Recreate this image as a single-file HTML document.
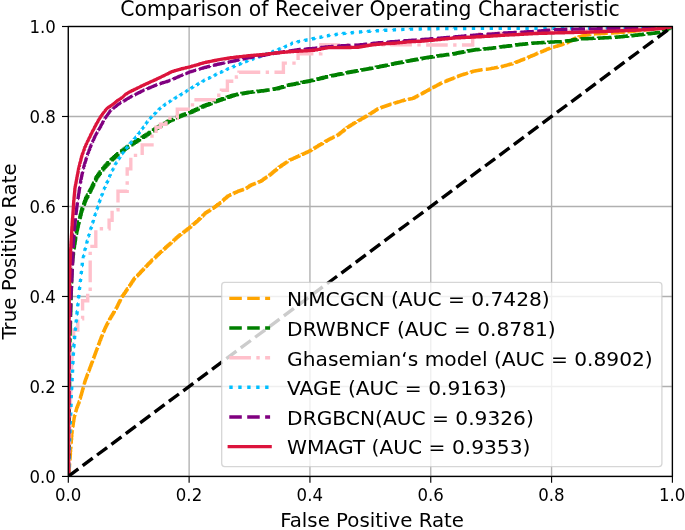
<!DOCTYPE html>
<html lang="en"><head><meta charset="utf-8"><title>Comparison of Receiver Operating Characteristic</title>
<style>html,body{margin:0;padding:0;background:#fff;overflow:hidden}svg{display:block;will-change:transform}text{font-family:"DejaVu Sans", "Liberation Sans", sans-serif;fill:#000}</style></head><body>
<svg width="685" height="530" viewBox="0 0 685 530">
<rect width="685" height="530" fill="#fff"/>
<defs><clipPath id="ax"><rect x="68.3" y="26.5" width="604.1" height="449.9"/></clipPath></defs>
<g stroke="#b0b0b0" stroke-width="1.35" fill="none">
<line x1="68.30" y1="476.4" x2="68.30" y2="26.5"/>
<line x1="68.3" y1="476.45" x2="672.4" y2="476.45"/>
<line x1="189.12" y1="476.4" x2="189.12" y2="26.5"/>
<line x1="68.3" y1="386.46" x2="672.4" y2="386.46"/>
<line x1="309.94" y1="476.4" x2="309.94" y2="26.5"/>
<line x1="68.3" y1="296.47" x2="672.4" y2="296.47"/>
<line x1="430.76" y1="476.4" x2="430.76" y2="26.5"/>
<line x1="68.3" y1="206.48" x2="672.4" y2="206.48"/>
<line x1="551.58" y1="476.4" x2="551.58" y2="26.5"/>
<line x1="68.3" y1="116.49" x2="672.4" y2="116.49"/>
<line x1="672.40" y1="476.4" x2="672.40" y2="26.5"/>
<line x1="68.3" y1="26.50" x2="672.4" y2="26.50"/>
</g>
<g clip-path="url(#ax)" fill="none" stroke-width="3.38" stroke-linejoin="miter">
<polyline id="c-orange" points="68.5,476.3 68.7,476.3 68.7,474.4 68.8,474.4 68.9,474.4 68.9,472.9 69.0,472.9 69.0,471.4 69.1,471.4 69.1,469.9 69.2,469.9 69.2,468.4 69.3,468.4 69.4,468.4 69.4,466.9 69.5,466.9 69.5,465.4 69.6,465.4 69.6,463.9 69.7,463.9 69.7,462.4 69.8,462.4 69.9,462.4 69.9,460.9 70.0,460.9 70.0,459.4 70.1,459.4 70.1,457.9 70.2,457.9 70.2,456.4 70.3,456.4 70.3,454.9 70.4,454.9 70.4,453.3 70.5,453.3 70.5,451.8 70.6,451.8 70.6,450.3 70.7,450.3 70.7,448.8 70.8,448.8 70.8,447.3 70.9,447.3 71.0,447.3 71.0,445.8 71.1,445.8 71.1,444.3 71.2,444.3 71.2,442.8 71.3,442.8 71.3,441.3 71.4,441.3 71.4,439.8 71.5,439.8 71.6,439.8 71.6,438.2 71.7,438.2 71.7,436.7 71.8,436.7 71.8,435.2 71.9,435.2 71.9,433.7 72.0,433.7 72.0,432.2 72.1,432.2 72.2,432.2 72.2,430.7 72.3,430.7 72.4,430.7 72.4,429.2 72.5,429.2 72.6,429.2 72.6,427.7 72.8,427.7 72.9,427.7 72.9,426.2 73.0,426.2 73.1,426.2 73.1,424.6 73.2,424.6 73.3,424.6 73.3,423.1 73.4,423.1 73.5,423.1 73.5,421.6 73.6,421.6 73.8,421.6 73.8,420.1 73.9,420.1 74.0,420.1 74.0,418.6 74.1,418.6 74.2,418.6 74.2,417.1 74.3,417.1 74.5,417.1 74.5,415.6 74.7,415.6 74.9,415.6 74.9,414.1 75.1,414.1 75.3,414.1 75.3,412.6 75.5,412.6 75.8,412.6 75.8,411.0 76.0,411.0 76.2,411.0 76.2,409.5 76.4,409.5 76.6,409.5 76.6,408.0 76.8,408.0 77.1,408.0 77.1,406.7 77.3,406.7 77.6,406.7 77.6,405.4 77.8,405.4 78.1,405.4 78.1,404.2 78.4,404.2 78.6,404.2 78.6,402.9 78.9,402.9 79.1,402.9 79.1,401.4 79.3,401.4 79.5,401.4 79.5,399.9 79.8,399.9 80.0,399.9 80.0,398.4 80.2,398.4 80.4,398.4 80.4,396.9 80.6,396.9 80.8,396.9 80.8,395.4 81.0,395.4 81.3,395.4 81.3,393.9 81.5,393.9 81.7,393.9 81.7,392.4 81.9,392.4 82.1,392.4 82.1,390.9 82.3,390.9 82.5,390.9 82.5,389.4 82.8,389.4 83.0,389.4 83.0,387.9 83.2,387.9 83.4,387.9 83.4,386.3 83.6,386.3 83.8,386.3 83.8,384.8 84.0,384.8 84.3,384.8 84.3,383.3 84.5,383.3 84.7,383.3 84.7,381.8 84.9,381.8 85.1,381.8 85.1,380.5 85.4,380.5 85.6,380.5 85.6,379.1 85.9,379.1 86.1,379.1 86.1,377.8 86.3,377.8 86.6,377.8 86.6,376.5 86.8,376.5 87.0,376.5 87.0,375.2 87.3,375.2 87.5,375.2 87.5,373.9 87.8,373.9 88.0,373.9 88.0,372.5 88.2,372.5 88.5,372.5 88.5,371.2 88.7,371.2 89.0,371.2 89.0,369.9 89.2,369.9 89.5,369.9 89.5,368.5 89.7,368.5 90.0,368.5 90.0,367.2 90.2,367.2 90.5,367.2 90.5,365.9 90.7,365.9 91.0,365.9 91.0,364.5 91.2,364.5 91.5,364.5 91.5,363.2 91.7,363.2 92.0,363.2 92.0,361.9 92.2,361.9 92.5,361.9 92.5,360.5 92.7,360.5 93.0,360.5 93.0,359.2 93.2,359.2 93.5,359.2 93.5,357.9 93.7,357.9 94.0,357.9 94.0,356.5 94.2,356.5 94.5,356.5 94.5,355.2 94.7,355.2 95.0,355.2 95.0,353.8 95.2,353.8 95.5,353.8 95.5,352.5 95.7,352.5 96.0,352.5 96.0,351.1 96.2,351.1 96.5,351.1 96.5,349.8 96.7,349.8 97.0,349.8 97.0,348.4 97.2,348.4 97.5,348.4 97.5,347.1 97.7,347.1 98.0,347.1 98.0,345.7 98.2,345.7 98.5,345.7 98.5,344.2 98.8,344.2 99.1,344.2 99.1,342.8 99.3,342.8 99.6,342.8 99.6,341.3 99.9,341.3 100.1,341.3 100.1,339.9 100.4,339.9 100.7,339.9 100.7,338.4 101.0,338.4 101.2,338.4 101.2,337.0 101.5,337.0 101.8,337.0 101.8,335.7 102.0,335.7 102.3,335.7 102.3,334.4 102.6,334.4 102.9,334.4 102.9,333.1 103.1,333.1 103.4,333.1 103.4,331.8 103.7,331.8 103.9,331.8 103.9,330.5 104.2,330.5 104.5,330.5 104.5,329.2 104.8,329.2 105.0,329.2 105.0,327.9 105.3,327.9 105.6,327.9 105.6,326.6 106.0,326.6 106.3,326.6 106.3,325.3 106.6,325.3 106.9,325.3 106.9,324.0 107.3,324.0 107.6,324.0 107.6,322.8 107.9,322.8 108.2,322.8 108.2,321.5 108.6,321.5 108.9,321.5 108.9,320.2 109.2,320.2 109.5,320.2 109.5,318.9 109.9,318.9 110.3,318.9 110.3,317.6 110.7,317.6 111.1,317.6 111.1,316.2 111.5,316.2 111.9,316.2 111.9,314.9 112.3,314.9 112.7,314.9 112.7,313.6 113.1,313.6 113.5,313.6 113.5,312.3 113.9,312.3 114.3,312.3 114.3,310.9 114.8,310.9 115.2,310.9 115.2,309.6 115.6,309.6 116.0,309.6 116.0,308.3 116.4,308.3 116.7,308.3 116.7,307.0 117.0,307.0 117.3,307.0 117.3,305.6 117.6,305.6 118.0,305.6 118.0,304.3 118.3,304.3 118.6,304.3 118.6,303.0 118.9,303.0 119.2,303.0 119.2,301.7 119.6,301.7 119.9,301.7 119.9,300.4 120.2,300.4 120.5,300.4 120.5,299.0 120.8,299.0 121.1,299.0 121.1,297.7 121.5,297.7 121.9,297.7 121.9,296.4 122.3,296.4 122.8,296.4 122.8,295.1 123.2,295.1 123.7,295.1 123.7,293.8 124.1,293.8 124.6,293.8 124.6,292.6 125.0,292.6 125.5,292.6 125.5,291.3 125.9,291.3 126.3,291.3 126.3,290.0 126.8,290.0 127.2,290.0 127.2,288.7 127.7,288.7 128.1,288.7 128.1,287.5 128.5,287.5 128.9,287.5 128.9,286.3 129.3,286.3 129.7,286.3 129.7,285.1 130.1,285.1 130.5,285.1 130.5,283.9 130.9,283.9 131.3,283.9 131.3,282.6 131.7,282.6 132.1,282.6 132.1,281.4 132.5,281.4 132.9,281.4 132.9,280.2 133.3,280.2 133.7,280.2 133.7,279.0 134.1,279.0 134.6,279.0 134.6,278.0 135.1,278.0 135.6,278.0 135.6,276.9 136.1,276.9 136.6,276.9 136.6,275.9 137.1,275.9 137.6,275.9 137.6,274.9 138.1,274.9 138.6,274.9 138.6,273.9 139.1,273.9 139.6,273.9 139.6,272.9 140.1,272.9 140.6,272.9 140.6,271.8 141.1,271.8 141.6,271.8 141.6,270.8 142.1,270.8 142.6,270.8 142.6,269.7 143.1,269.7 143.6,269.7 143.6,268.6 144.1,268.6 144.6,268.6 144.6,267.6 145.1,267.6 145.7,267.6 145.7,266.5 146.2,266.5 146.7,266.5 146.7,265.4 147.2,265.4 147.7,265.4 147.7,264.3 148.2,264.3 148.7,264.3 148.7,263.3 149.2,263.3 149.8,263.3 149.8,262.2 150.3,262.2 150.8,262.2 150.8,261.1 151.3,261.1 151.8,261.1 151.8,260.0 152.4,260.0 153.0,260.0 153.0,259.0 153.5,259.0 154.1,259.0 154.1,257.9 154.6,257.9 155.2,257.9 155.2,256.9 155.7,256.9 156.3,256.9 156.3,255.8 156.9,255.8 157.4,255.8 157.4,254.7 158.0,254.7 158.5,254.7 158.5,253.7 159.1,253.7 159.6,253.7 159.6,252.6 160.2,252.6 160.8,252.6 160.8,251.5 161.4,251.5 162.0,251.5 162.0,250.5 162.5,250.5 163.1,250.5 163.1,249.4 163.7,249.4 164.3,249.4 164.3,248.4 164.9,248.4 165.5,248.4 165.5,247.3 166.1,247.3 166.7,247.3 166.7,246.3 167.2,246.3 167.8,246.3 167.8,245.2 168.4,245.2 169.0,245.2 169.0,244.2 169.6,244.2 170.2,244.2 170.2,243.1 170.8,243.1 171.4,243.1 171.4,242.1 172.0,242.1 172.6,242.1 172.6,241.0 173.2,241.0 173.8,241.0 173.8,239.9 174.3,239.9 174.9,239.9 174.9,238.9 175.5,238.9 176.1,238.9 176.1,237.8 176.7,237.8 177.3,237.8 177.3,236.8 177.9,236.8 178.5,236.8 178.5,235.7 179.1,235.7 179.7,235.7 179.7,234.8 180.3,234.8 181.0,234.8 181.0,233.8 181.6,233.8 182.2,233.8 182.2,232.8 182.8,232.8 183.5,232.8 183.5,231.9 184.1,231.9 184.7,231.9 184.7,230.9 185.3,230.9 186.0,230.9 186.0,230.0 186.6,230.0 187.2,230.0 187.2,229.0 187.8,229.0 188.5,229.0 188.5,228.1 189.1,228.1 189.6,228.1 189.6,227.2 190.2,227.2 190.8,227.2 190.8,226.2 191.3,226.2 191.9,226.2 191.9,225.3 192.4,225.3 192.9,225.3 192.9,224.3 193.5,224.3 194.1,224.3 194.1,223.4 194.6,223.4 195.1,223.4 195.1,222.5 195.7,222.5 196.2,222.5 196.2,221.5 196.8,221.5 197.4,221.5 197.4,220.6 197.9,220.6 198.4,220.6 198.4,219.5 199.0,219.5 199.5,219.5 199.5,218.4 200.1,218.4 200.6,218.4 200.6,217.3 201.2,217.3 201.7,217.3 201.7,216.3 202.2,216.3 202.8,216.3 202.8,215.2 203.3,215.2 203.9,215.2 203.9,214.1 204.4,214.1 205.0,214.1 205.0,213.0 205.5,213.0 206.1,213.0 206.1,212.2 206.8,212.2 207.4,212.2 207.4,211.4 208.0,211.4 208.6,211.4 208.6,210.7 209.2,210.7 209.9,210.7 209.9,209.9 210.5,209.9 211.1,209.9 211.1,209.1 211.8,209.1 212.4,209.1 212.4,208.3 213.0,208.3 213.6,208.3 213.6,207.4 214.3,207.4 214.9,207.4 214.9,206.4 215.5,206.4 216.2,206.4 216.2,205.4 216.8,205.4 217.4,205.4 217.4,204.5 218.1,204.5 218.7,204.5 218.7,203.6 219.3,203.6 220.0,203.6 220.0,202.6 220.6,202.6 221.1,202.6 221.1,201.7 221.7,201.7 222.2,201.7 222.2,200.7 222.7,200.7 223.3,200.7 223.3,199.8 223.8,199.8 224.3,199.8 224.3,198.8 224.9,198.8 225.4,198.8 225.4,197.9 226.0,197.9 226.5,197.9 226.5,196.9 227.0,196.9 227.6,196.9 227.6,196.0 228.1,196.0 228.8,196.0 228.8,195.4 229.4,195.4 230.1,195.4 230.1,194.7 230.8,194.7 231.5,194.7 231.5,194.1 232.1,194.1 232.8,194.1 232.8,193.5 233.5,193.5 234.1,193.5 234.1,192.8 234.8,192.8 235.5,192.8 235.5,192.2 236.2,192.2 236.8,192.2 236.8,191.6 237.5,191.6 238.2,191.6 238.2,191.0 239.0,191.0 239.8,191.0 239.8,190.5 240.5,190.5 241.2,190.5 241.2,190.0 242.0,190.0 242.8,190.0 242.8,189.5 243.5,189.5 244.2,189.5 244.2,189.0 245.0,189.0 245.6,189.0 245.6,188.2 246.3,188.2 246.9,188.2 246.9,187.4 247.5,187.4 248.2,187.4 248.2,186.6 248.8,186.6 249.4,186.6 249.4,185.8 250.0,185.8 250.7,185.8 250.7,185.0 251.3,185.0 252.0,185.0 252.0,184.5 252.7,184.5 253.3,184.5 253.3,183.9 254.0,183.9 254.7,183.9 254.7,183.4 255.4,183.4 256.1,183.4 256.1,182.8 256.7,182.8 257.4,182.8 257.4,182.3 258.1,182.3 258.8,182.3 258.8,181.7 259.4,181.7 260.1,181.7 260.1,181.2 260.8,181.2 261.4,181.2 261.4,180.4 262.0,180.4 262.6,180.4 262.6,179.6 263.1,179.6 263.7,179.6 263.7,178.8 264.3,178.8 264.9,178.8 264.9,177.9 265.5,177.9 266.1,177.9 266.1,177.1 266.7,177.1 267.3,177.1 267.3,176.3 267.9,176.3 268.4,176.3 268.4,175.5 269.0,175.5 269.6,175.5 269.6,174.7 270.2,174.7 270.8,174.7 270.8,173.7 271.4,173.7 272.0,173.7 272.0,172.8 272.6,172.8 273.1,172.8 273.1,171.8 273.7,171.8 274.3,171.8 274.3,170.8 274.9,170.8 275.5,170.8 275.5,169.9 276.1,169.9 276.7,169.9 276.7,168.9 277.2,168.9 277.8,168.9 277.8,168.0 278.4,168.0 279.0,168.0 279.0,167.0 279.6,167.0 280.2,167.0 280.2,166.2 280.8,166.2 281.4,166.2 281.4,165.3 282.0,165.3 282.6,165.3 282.6,164.5 283.2,164.5 283.8,164.5 283.8,163.7 284.4,163.7 284.9,163.7 284.9,162.9 285.5,162.9 286.1,162.9 286.1,162.1 286.7,162.1 287.3,162.1 287.3,161.2 287.9,161.2 288.5,161.2 288.5,160.4 289.1,160.4 289.8,160.4 289.8,159.8 290.4,159.8 291.1,159.8 291.1,159.2 291.8,159.2 292.5,159.2 292.5,158.6 293.1,158.6 293.8,158.6 293.8,158.0 294.5,158.0 295.1,158.0 295.1,157.4 295.8,157.4 296.5,157.4 296.5,156.8 297.2,156.8 297.8,156.8 297.8,156.2 298.5,156.2 299.2,156.2 299.2,155.5 299.9,155.5 300.6,155.5 300.6,154.9 301.3,154.9 302.0,154.9 302.0,154.2 302.7,154.2 303.4,154.2 303.4,153.6 304.1,153.6 304.9,153.6 304.9,152.9 305.6,152.9 306.3,152.9 306.3,152.2 307.0,152.2 307.7,152.2 307.7,151.6 308.4,151.6 309.1,151.6 309.1,150.9 309.8,150.9 310.5,150.9 310.5,150.1 311.1,150.1 311.8,150.1 311.8,149.3 312.5,149.3 313.2,149.3 313.2,148.5 313.8,148.5 314.5,148.5 314.5,147.7 315.2,147.7 315.8,147.7 315.8,146.9 316.5,146.9 317.2,146.9 317.2,146.1 317.9,146.1 318.5,146.1 318.5,145.3 319.2,145.3 319.9,145.3 319.9,144.5 320.6,144.5 321.2,144.5 321.2,143.7 321.9,143.7 322.6,143.7 322.6,142.9 323.3,142.9 323.9,142.9 323.9,142.0 324.6,142.0 325.3,142.0 325.3,141.2 326.0,141.2 326.7,141.2 326.7,140.4 327.3,140.4 328.0,140.4 328.0,139.6 328.7,139.6 329.4,139.6 329.4,138.9 330.0,138.9 330.7,138.9 330.7,138.3 331.4,138.3 332.1,138.3 332.1,137.6 332.7,137.6 333.4,137.6 333.4,136.9 334.1,136.9 334.7,136.9 334.7,136.2 335.4,136.2 336.1,136.2 336.1,135.6 336.8,135.6 337.4,135.6 337.4,134.9 338.1,134.9 338.7,134.9 338.7,134.0 339.3,134.0 339.9,134.0 339.9,133.0 340.5,133.0 341.0,133.0 341.0,132.1 341.6,132.1 342.2,132.1 342.2,131.2 342.8,131.2 343.4,131.2 343.4,130.2 344.0,130.2 344.6,130.2 344.6,129.3 345.1,129.3 345.7,129.3 345.7,128.3 346.3,128.3 346.9,128.3 346.9,127.4 347.5,127.4 348.1,127.4 348.1,126.6 348.8,126.6 349.5,126.6 349.5,125.8 350.1,125.8 350.8,125.8 350.8,124.9 351.4,124.9 352.0,124.9 352.0,124.1 352.7,124.1 353.4,124.1 353.4,123.3 354.0,123.3 354.6,123.3 354.6,122.6 355.2,122.6 355.8,122.6 355.8,121.9 356.4,121.9 357.0,121.9 357.0,121.3 357.6,121.3 358.2,121.3 358.2,120.6 358.8,120.6 359.4,120.6 359.4,119.9 360.0,119.9 360.7,119.9 360.7,119.1 361.3,119.1 361.9,119.1 361.9,118.4 362.5,118.4 363.1,118.4 363.1,117.7 363.8,117.7 364.4,117.7 364.4,117.0 365.0,117.0 365.6,117.0 365.6,116.2 366.3,116.2 366.9,116.2 366.9,115.5 367.5,115.5 368.1,115.5 368.1,114.7 368.8,114.7 369.5,114.7 369.5,113.9 370.1,113.9 370.8,113.9 370.8,113.1 371.4,113.1 372.0,113.1 372.0,112.3 372.7,112.3 373.4,112.3 373.4,111.4 374.0,111.4 374.6,111.4 374.6,110.6 375.3,110.6 375.9,110.6 375.9,109.8 376.6,109.8 377.2,109.8 377.2,109.0 377.9,109.0 378.5,109.0 378.5,108.2 379.2,108.2 379.9,108.2 379.9,107.7 380.7,107.7 381.4,107.7 381.4,107.2 382.1,107.2 382.8,107.2 382.8,106.7 383.6,106.7 384.3,106.7 384.3,106.2 385.0,106.2 385.8,106.2 385.8,105.8 386.5,105.8 387.2,105.8 387.2,105.3 387.9,105.3 388.7,105.3 388.7,104.8 389.4,104.8 390.1,104.8 390.1,104.3 390.8,104.3 391.6,104.3 391.6,103.8 392.3,103.8 393.0,103.8 393.0,103.4 393.8,103.4 394.5,103.4 394.5,102.9 395.2,102.9 396.0,102.9 396.0,102.5 396.7,102.5 397.4,102.5 397.4,102.0 398.2,102.0 398.9,102.0 398.9,101.6 399.6,101.6 400.4,101.6 400.4,101.1 401.1,101.1 401.8,101.1 401.8,100.7 402.6,100.7 403.3,100.7 403.3,100.2 404.0,100.2 404.8,100.2 404.8,99.8 405.5,99.8 406.2,99.8 406.2,99.5 407.0,99.5 407.7,99.5 407.7,99.2 408.4,99.2 409.1,99.2 409.1,99.0 409.9,99.0 410.6,99.0 410.6,98.7 411.3,98.7 412.1,98.7 412.1,98.4 412.8,98.4 413.5,98.4 413.5,97.7 414.3,97.7 415.0,97.7 415.0,96.9 415.7,96.9 416.5,96.9 416.5,96.1 417.2,96.1 417.9,96.1 417.9,95.4 418.6,95.4 419.4,95.4 419.4,94.6 420.1,94.6 420.7,94.6 420.7,93.9 421.4,93.9 422.0,93.9 422.0,93.2 422.7,93.2 423.3,93.2 423.3,92.5 423.9,92.5 424.6,92.5 424.6,91.8 425.2,91.8 425.8,91.8 425.8,91.1 426.5,91.1 427.1,91.1 427.1,90.4 427.8,90.4 428.4,90.4 428.4,89.7 429.0,89.7 429.7,89.7 429.7,89.0 430.3,89.0 430.9,89.0 430.9,88.3 431.6,88.3 432.2,88.3 432.2,87.6 432.9,87.6 433.5,87.6 433.5,86.9 434.1,86.9 434.8,86.9 434.8,86.3 435.4,86.3 436.0,86.3 436.0,85.6 436.7,85.6 437.3,85.6 437.3,84.9 437.9,84.9 438.6,84.9 438.6,84.2 439.2,84.2 439.9,84.2 439.9,83.5 440.5,83.5 441.2,83.5 441.2,82.9 442.0,82.9 442.8,82.9 442.8,82.3 443.5,82.3 444.2,82.3 444.2,81.6 445.0,81.6 445.8,81.6 445.8,81.0 446.5,81.0 447.2,81.0 447.2,80.3 448.0,80.3 448.7,80.3 448.7,79.8 449.4,79.8 450.1,79.8 450.1,79.2 450.7,79.2 451.4,79.2 451.4,78.7 452.1,78.7 452.8,78.7 452.8,78.1 453.5,78.1 454.1,78.1 454.1,77.6 454.8,77.6 455.5,77.6 455.5,77.0 456.2,77.0 456.9,77.0 456.9,76.5 457.6,76.5 458.2,76.5 458.2,75.9 458.9,75.9 459.6,75.9 459.6,75.4 460.3,75.4 461.0,75.4 461.0,74.9 461.8,74.9 462.5,74.9 462.5,74.5 463.2,74.5 463.9,74.5 463.9,74.0 464.7,74.0 465.4,74.0 465.4,73.6 466.1,73.6 466.9,73.6 466.9,73.1 467.6,73.1 468.3,73.1 468.3,72.6 469.0,72.6 469.8,72.6 469.8,72.2 470.5,72.2 471.2,72.2 471.2,71.7 471.9,71.7 472.7,71.7 472.7,71.3 473.4,71.3 474.1,71.3 474.1,71.0 474.8,71.0 475.5,71.0 475.5,70.7 476.2,70.7 476.9,70.7 476.9,70.5 477.6,70.5 478.3,70.5 478.3,70.2 479.0,70.2 479.8,70.2 479.8,70.0 480.5,70.0 481.3,70.0 481.3,69.8 482.0,69.8 482.8,69.8 482.8,69.6 483.5,69.6 484.3,69.6 484.3,69.4 485.1,69.4 485.8,69.4 485.8,69.3 486.6,69.3 487.3,69.3 487.3,69.1 488.1,69.1 488.8,69.1 488.8,68.9 489.6,68.9 490.3,68.9 490.3,68.6 491.1,68.6 491.8,68.6 491.8,68.3 492.5,68.3 493.3,68.3 493.3,68.1 494.0,68.1 494.7,68.1 494.7,67.8 495.5,67.8 496.2,67.8 496.2,67.5 496.9,67.5 497.6,67.5 497.6,67.2 498.4,67.2 499.1,67.2 499.1,66.9 499.8,66.9 500.6,66.9 500.6,66.7 501.3,66.7 502.0,66.7 502.0,66.3 502.8,66.3 503.5,66.3 503.5,65.9 504.2,65.9 505.0,65.9 505.0,65.5 505.7,65.5 506.4,65.5 506.4,65.1 507.1,65.1 507.9,65.1 507.9,64.7 508.6,64.7 509.3,64.7 509.3,64.3 510.1,64.3 510.8,64.3 510.8,64.0 511.5,64.0 512.3,64.0 512.3,63.6 513.0,63.6 513.7,63.6 513.7,63.0 514.5,63.0 515.2,63.0 515.2,62.4 515.9,62.4 516.6,62.4 516.6,61.8 517.4,61.8 518.1,61.8 518.1,61.2 518.8,61.2 519.5,61.2 519.5,60.6 520.3,60.6 521.0,60.6 521.0,60.0 521.7,60.0 522.5,60.0 522.5,59.5 523.2,59.5 523.9,59.5 523.9,58.9 524.6,58.9 525.4,58.9 525.4,58.3 526.1,58.3 526.8,58.3 526.8,57.7 527.6,57.7 528.3,57.7 528.3,57.0 529.0,57.0 529.7,57.0 529.7,56.4 530.5,56.4 531.2,56.4 531.2,55.8 531.9,55.8 532.7,55.8 532.7,55.2 533.4,55.2 534.1,55.2 534.1,54.6 534.8,54.6 535.6,54.6 535.6,53.9 536.3,53.9 537.0,53.9 537.0,53.3 537.7,53.3 538.5,53.3 538.5,52.7 539.2,52.7 539.9,52.7 539.9,52.1 540.7,52.1 541.4,52.1 541.4,51.5 542.1,51.5 542.9,51.5 542.9,50.9 543.6,50.9 544.3,50.9 544.3,50.2 545.0,50.2 545.8,50.2 545.8,49.6 546.5,49.6 547.2,49.6 547.2,49.0 548.0,49.0 548.7,49.0 548.7,48.4 549.4,48.4 550.2,48.4 550.2,47.8 550.9,47.8 551.6,47.8 551.6,47.4 552.4,47.4 553.1,47.4 553.1,47.0 553.8,47.0 554.6,47.0 554.6,46.6 555.3,46.6 556.0,46.6 556.0,46.2 556.8,46.2 557.5,46.2 557.5,45.8 558.2,45.8 559.0,45.8 559.0,45.4 559.7,45.4 560.4,45.4 560.4,44.9 561.2,44.9 561.9,44.9 561.9,44.3 562.6,44.3 563.3,44.3 563.3,43.8 564.0,43.8 564.8,43.8 564.8,43.2 565.5,43.2 566.2,43.2 566.2,42.7 567.0,42.7 567.7,42.7 567.7,42.1 568.4,42.1 569.0,42.1 569.0,41.4 569.5,41.4 570.1,41.4 570.1,40.8 570.7,40.8 571.3,40.8 571.3,40.1 571.9,40.1 572.4,40.1 572.4,39.4 573.0,39.4 573.6,39.4 573.6,38.8 574.2,38.8 574.9,38.8 574.9,38.2 575.5,38.2 576.1,38.2 576.1,37.6 576.8,37.6 577.4,37.6 577.4,37.0 578.0,37.0 578.7,37.0 578.7,36.7 579.4,36.7 580.0,36.7 580.0,36.4 580.7,36.4 581.4,36.4 581.4,36.0 582.0,36.0 582.7,36.0 582.7,35.7 583.4,35.7 584.1,35.7 584.1,35.4 584.8,35.4 585.4,35.4 585.4,35.0 586.1,35.0 586.9,35.0 586.9,34.8 587.7,34.8 588.5,34.8 588.5,34.6 589.3,34.6 590.1,34.6 590.1,34.4 590.9,34.4 591.7,34.4 591.7,34.2 592.5,34.2 593.3,34.2 593.3,34.0 594.1,34.0 594.8,34.0 594.8,33.9 595.6,33.9 596.3,33.9 596.3,33.8 597.0,33.8 597.7,33.8 598.5,33.8 599.2,33.8 599.2,33.7 599.9,33.7 600.6,33.7 600.6,33.6 601.4,33.6 602.1,33.6 602.8,33.6 603.6,33.6 603.6,33.5 604.3,33.5 605.0,33.5 605.0,33.4 605.7,33.4 606.5,33.4 606.5,33.3 607.2,33.3 607.9,33.3 608.6,33.3 609.4,33.3 609.4,33.2 610.1,33.2 610.8,33.2 610.8,33.1 611.6,33.1 612.3,33.1 612.3,33.0 613.0,33.0 613.8,33.0 613.8,32.9 614.5,32.9 615.2,32.9 615.2,32.8 616.0,32.8 616.7,32.8 616.7,32.7 617.4,32.7 618.2,32.7 618.2,32.5 618.9,32.5 619.6,32.5 619.6,32.4 620.3,32.4 621.1,32.4 621.1,32.3 621.8,32.3 622.5,32.3 622.5,32.2 623.3,32.2 624.0,32.2 624.0,32.1 624.7,32.1 625.5,32.1 625.5,32.0 626.2,32.0 626.9,32.0 626.9,31.8 627.7,31.8 628.4,31.8 628.4,31.7 629.2,31.7 629.9,31.7 629.9,31.5 630.7,31.5 631.4,31.5 631.4,31.4 632.2,31.4 632.9,31.4 632.9,31.2 633.6,31.2 634.4,31.2 634.4,31.1 635.1,31.1 635.9,31.1 635.9,30.9 636.6,30.9 637.4,30.9 637.4,30.8 638.1,30.8 638.8,30.8 638.8,30.6 639.6,30.6 640.3,30.6 640.3,30.4 641.1,30.4 641.8,30.4 641.8,30.3 642.6,30.3 643.3,30.3 643.3,30.1 644.0,30.1 644.8,30.1 644.8,30.0 645.5,30.0 646.3,30.0 646.3,29.8 647.0,29.8 647.8,29.8 647.8,29.7 648.5,29.7 649.3,29.7 649.3,29.5 650.0,29.5 650.7,29.5 650.7,29.3 651.5,29.3 652.2,29.3 652.2,29.1 653.0,29.1 653.7,29.1 653.7,28.9 654.4,28.9 655.2,28.9 655.2,28.7 655.9,28.7 656.7,28.7 656.7,28.5 657.4,28.5 658.1,28.5 658.1,28.3 658.9,28.3 659.6,28.3 659.6,28.1 660.4,28.1 661.1,28.1 661.1,27.8 661.8,27.8 662.6,27.8 662.6,27.6 663.3,27.6 664.1,27.6 664.1,27.4 664.8,27.4 665.5,27.4 665.5,27.2 666.3,27.2 667.0,27.2 667.0,27.0 667.8,27.0 668.5,27.0 668.5,26.8 669.2,26.8 670.0,26.8 670.0,26.6 670.7,26.6 671.5,26.6 671.5,26.4 672.2,26.4" stroke="#FFA500" stroke-dasharray="14.03,3.89" stroke-linejoin="round"/>
<polyline id="c-green" points="68.5,476.3 68.5,474.8 68.5,473.3 68.6,473.3 68.6,471.8 68.6,470.2 68.6,468.7 68.6,467.2 68.6,465.7 68.7,465.7 68.7,464.2 68.7,462.7 68.7,461.2 68.7,459.7 68.7,458.1 68.8,458.1 68.8,456.6 68.8,455.1 68.8,453.6 68.8,452.1 68.8,450.6 68.9,450.6 68.9,449.1 68.9,447.6 68.9,446.1 68.9,444.5 68.9,443.0 69.0,443.0 69.0,441.5 69.0,440.0 69.0,438.5 69.0,437.0 69.0,435.6 69.1,435.6 69.1,434.1 69.1,432.6 69.1,431.1 69.1,429.6 69.1,428.1 69.1,426.7 69.1,425.2 69.2,425.2 69.2,423.7 69.2,422.2 69.2,420.7 69.2,419.3 69.2,417.8 69.2,416.3 69.2,414.8 69.3,414.8 69.3,413.3 69.3,411.9 69.3,410.4 69.3,408.9 69.3,407.4 69.3,405.9 69.3,404.4 69.4,404.4 69.4,403.0 69.4,401.5 69.4,400.0 69.4,398.5 69.4,397.0 69.4,395.5 69.5,395.5 69.5,394.0 69.5,392.5 69.5,391.0 69.5,389.5 69.5,388.0 69.5,386.5 69.5,385.0 69.6,385.0 69.6,383.5 69.6,382.0 69.6,380.5 69.6,379.0 69.6,377.5 69.6,376.0 69.6,374.5 69.7,374.5 69.7,373.0 69.7,371.5 69.7,370.0 69.7,368.5 69.7,367.0 69.7,365.5 69.8,365.5 69.8,364.0 69.8,362.5 69.8,361.0 69.8,359.5 69.8,358.0 69.8,356.5 69.8,355.0 69.9,355.0 69.9,353.5 69.9,352.0 69.9,350.5 69.9,349.0 69.9,347.5 69.9,346.0 69.9,344.5 70.0,344.5 70.0,343.0 70.0,341.5 70.0,340.0 70.0,338.5 70.1,338.5 70.1,337.0 70.1,335.6 70.1,334.1 70.2,334.1 70.2,332.6 70.2,331.1 70.2,329.6 70.3,329.6 70.3,328.1 70.3,326.7 70.4,326.7 70.4,325.2 70.4,323.7 70.4,322.2 70.5,322.2 70.5,320.7 70.5,319.3 70.5,317.8 70.6,317.8 70.6,316.3 70.6,314.8 70.6,313.3 70.7,313.3 70.7,311.9 70.7,310.4 70.8,310.4 70.8,308.9 70.8,307.4 70.8,305.9 70.9,305.9 70.9,304.4 70.9,303.0 70.9,301.5 71.0,301.5 71.0,300.0 71.0,298.5 71.1,298.5 71.1,297.0 71.1,295.4 71.2,295.4 71.2,293.9 71.2,292.4 71.3,292.4 71.3,290.9 71.3,289.4 71.4,289.4 71.4,287.8 71.4,286.3 71.5,286.3 71.5,284.8 71.5,283.3 71.5,281.8 71.6,281.8 71.6,280.2 71.6,278.7 71.7,278.7 71.7,277.2 71.7,275.7 71.8,275.7 71.8,274.2 71.8,272.6 71.9,272.6 71.9,271.1 71.9,269.6 72.0,269.6 72.0,268.1 72.0,266.6 72.1,266.6 72.1,265.0 72.2,265.0 72.2,263.6 72.3,263.6 72.3,262.1 72.4,262.1 72.4,260.7 72.5,260.7 72.6,260.7 72.6,259.3 72.7,259.3 72.7,257.8 72.8,257.8 72.9,257.8 72.9,256.4 73.0,256.4 73.1,256.4 73.1,254.9 73.2,254.9 73.3,254.9 73.3,253.5 73.4,253.5 73.5,253.5 73.5,252.0 73.6,252.0 73.6,250.6 73.7,250.6 73.8,250.6 73.8,249.2 73.9,249.2 74.0,249.2 74.0,247.7 74.1,247.7 74.2,247.7 74.2,246.3 74.3,246.3 74.4,246.3 74.4,244.9 74.5,244.9 74.6,244.9 74.6,243.4 74.7,243.4 74.9,243.4 74.9,242.0 75.0,242.0 75.1,242.0 75.1,240.6 75.2,240.6 75.3,240.6 75.3,239.2 75.4,239.2 75.5,239.2 75.5,237.7 75.6,237.7 75.7,237.7 75.7,236.3 75.9,236.3 76.0,236.3 76.0,234.9 76.1,234.9 76.2,234.9 76.2,233.4 76.3,233.4 76.5,233.4 76.5,232.0 76.6,232.0 76.8,232.0 76.8,230.6 77.0,230.6 77.1,230.6 77.1,229.2 77.3,229.2 77.4,229.2 77.4,227.7 77.6,227.7 77.8,227.7 77.8,226.3 77.9,226.3 78.1,226.3 78.1,224.9 78.2,224.9 78.4,224.9 78.4,223.4 78.6,223.4 78.7,223.4 78.7,222.0 78.9,222.0 79.1,222.0 79.1,220.5 79.3,220.5 79.5,220.5 79.5,219.0 79.7,219.0 79.8,219.0 79.8,217.5 80.0,217.5 80.2,217.5 80.2,215.9 80.4,215.9 80.6,215.9 80.6,214.4 80.8,214.4 81.0,214.4 81.0,212.9 81.2,212.9 81.3,212.9 81.3,211.4 81.5,211.4 81.7,211.4 81.7,209.9 81.9,209.9 82.2,209.9 82.2,208.5 82.4,208.5 82.7,208.5 82.7,207.1 82.9,207.1 83.2,207.1 83.2,205.7 83.4,205.7 83.7,205.7 83.7,204.4 84.0,204.4 84.2,204.4 84.2,203.0 84.5,203.0 84.7,203.0 84.7,201.6 85.0,201.6 85.2,201.6 85.2,200.2 85.5,200.2 85.7,200.2 85.7,198.8 86.0,198.8 86.3,198.8 86.3,197.5 86.7,197.5 87.1,197.5 87.1,196.2 87.4,196.2 87.8,196.2 87.8,194.9 88.1,194.9 88.4,194.9 88.4,193.6 88.8,193.6 89.2,193.6 89.2,192.3 89.5,192.3 89.8,192.3 89.8,191.0 90.2,191.0 90.5,191.0 90.5,189.7 90.8,189.7 91.2,189.7 91.2,188.4 91.5,188.4 91.8,188.4 91.8,187.1 92.1,187.1 92.5,187.1 92.5,185.8 92.8,185.8 93.1,185.8 93.1,184.5 93.4,184.5 93.7,184.5 93.7,183.1 94.0,183.1 94.3,183.1 94.3,181.8 94.7,181.8 95.0,181.8 95.0,180.5 95.3,180.5 95.6,180.5 95.6,179.1 95.9,179.1 96.2,179.1 96.2,177.8 96.5,177.8 96.9,177.8 96.9,176.6 97.3,176.6 97.7,176.6 97.7,175.5 98.2,175.5 98.6,175.5 98.6,174.3 99.0,174.3 99.4,174.3 99.4,173.2 99.8,173.2 100.2,173.2 100.2,172.0 100.6,172.0 101.1,172.0 101.1,170.9 101.5,170.9 101.9,170.9 101.9,169.7 102.3,169.7 102.8,169.7 102.8,168.6 103.3,168.6 103.9,168.6 103.9,167.4 104.4,167.4 104.9,167.4 104.9,166.3 105.4,166.3 105.9,166.3 105.9,165.1 106.5,165.1 107.0,165.1 107.0,164.0 107.5,164.0 108.0,164.0 108.0,162.8 108.6,162.8 109.1,162.8 109.1,161.7 109.6,161.7 110.1,161.7 110.1,160.7 110.7,160.7 111.2,160.7 111.2,159.7 111.8,159.7 112.3,159.7 112.3,158.7 112.9,158.7 113.5,158.7 113.5,157.7 114.0,157.7 114.5,157.7 114.5,156.7 115.1,156.7 115.7,156.7 115.7,155.7 116.2,155.7 116.8,155.7 116.8,154.7 117.3,154.7 117.9,154.7 117.9,153.7 118.4,153.7 119.0,153.7 119.0,152.8 119.7,152.8 120.3,152.8 120.3,151.9 121.0,151.9 121.6,151.9 121.6,151.0 122.2,151.0 122.9,151.0 122.9,150.1 123.5,150.1 124.1,150.1 124.1,149.1 124.8,149.1 125.4,149.1 125.4,148.2 126.0,148.2 126.7,148.2 126.7,147.3 127.3,147.3 128.0,147.3 128.0,146.4 128.6,146.4 129.2,146.4 129.2,145.6 129.9,145.6 130.5,145.6 130.5,144.8 131.2,144.8 131.8,144.8 131.8,143.9 132.4,143.9 133.1,143.9 133.1,143.1 133.7,143.1 134.3,143.1 134.3,142.3 135.0,142.3 135.6,142.3 135.6,141.5 136.2,141.5 136.9,141.5 136.9,140.6 137.5,140.6 138.2,140.6 138.2,139.8 138.8,139.8 139.5,139.8 139.5,139.0 140.1,139.0 140.8,139.0 140.8,138.2 141.4,138.2 142.1,138.2 142.1,137.4 142.7,137.4 143.4,137.4 143.4,136.5 144.0,136.5 144.7,136.5 144.7,135.7 145.3,135.7 145.9,135.7 145.9,134.9 146.6,134.9 147.2,134.9 147.2,134.1 147.9,134.1 148.6,134.1 148.6,133.3 149.2,133.3 149.8,133.3 149.8,132.5 150.5,132.5 151.1,132.5 151.1,131.7 151.7,131.7 152.3,131.7 152.3,130.9 152.9,130.9 153.5,130.9 153.5,130.0 154.1,130.0 154.7,130.0 154.7,129.2 155.3,129.2 155.9,129.2 155.9,128.4 156.5,128.4 157.1,128.4 157.1,127.6 157.7,127.6 158.3,127.6 158.3,126.8 158.9,126.8 159.5,126.8 159.5,126.1 160.1,126.1 160.8,126.1 160.8,125.4 161.4,125.4 162.0,125.4 162.0,124.7 162.6,124.7 163.3,124.7 163.3,124.0 163.9,124.0 164.5,124.0 164.5,123.4 165.1,123.4 165.7,123.4 165.7,122.7 166.4,122.7 167.0,122.7 167.0,122.0 167.6,122.0 168.2,122.0 168.2,121.3 168.9,121.3 169.5,121.3 169.5,120.6 170.1,120.6 170.8,120.6 170.8,120.0 171.4,120.0 172.1,120.0 172.1,119.5 172.7,119.5 173.3,119.5 173.3,118.9 174.0,118.9 174.7,118.9 174.7,118.3 175.3,118.3 175.9,118.3 175.9,117.8 176.6,117.8 177.2,117.8 177.2,117.2 177.9,117.2 178.6,117.2 178.6,116.6 179.2,116.6 179.9,116.6 179.9,116.1 180.5,116.1 181.2,116.1 181.2,115.5 181.8,115.5 182.5,115.5 182.5,115.0 183.2,115.0 184.0,115.0 184.0,114.4 184.7,114.4 185.4,114.4 185.4,113.9 186.2,113.9 186.9,113.9 186.9,113.4 187.6,113.4 188.3,113.4 188.3,112.9 189.1,112.9 189.8,112.9 189.8,112.3 190.5,112.3 191.2,112.3 191.2,111.7 191.9,111.7 192.6,111.7 192.6,111.0 193.3,111.0 194.0,111.0 194.0,110.4 194.7,110.4 195.4,110.4 195.4,109.7 196.1,109.7 196.8,109.7 196.8,109.1 197.6,109.1 198.3,109.1 198.3,108.4 199.0,108.4 199.7,108.4 199.7,107.8 200.4,107.8 201.1,107.8 201.1,107.1 201.8,107.1 202.5,107.1 202.5,106.5 203.2,106.5 203.9,106.5 203.9,105.8 204.6,105.8 205.3,105.8 205.3,105.3 206.1,105.3 206.8,105.3 206.8,104.7 207.5,104.7 208.2,104.7 208.2,104.2 209.0,104.2 209.7,104.2 209.7,103.6 210.4,103.6 211.2,103.6 211.2,103.0 211.9,103.0 212.6,103.0 212.6,102.5 213.4,102.5 214.1,102.5 214.1,101.9 214.8,101.9 215.6,101.9 215.6,101.4 216.3,101.4 217.0,101.4 217.0,100.8 217.7,100.8 218.5,100.8 218.5,100.3 219.2,100.3 219.9,100.3 219.9,99.8 220.7,99.8 221.4,99.8 221.4,99.3 222.1,99.3 222.8,99.3 222.8,98.8 223.6,98.8 224.3,98.8 224.3,98.2 225.0,98.2 225.8,98.2 225.8,97.7 226.5,97.7 227.2,97.7 227.2,97.2 228.0,97.2 228.7,97.2 228.7,96.7 229.4,96.7 230.2,96.7 230.2,96.2 230.9,96.2 231.6,96.2 231.6,95.7 232.3,95.7 233.1,95.7 233.1,95.2 233.8,95.2 234.5,95.2 234.5,94.9 235.3,94.9 236.0,94.9 236.0,94.6 236.7,94.6 237.4,94.6 237.4,94.3 238.2,94.3 238.9,94.3 238.9,94.1 239.6,94.1 240.4,94.1 240.4,93.8 241.1,93.8 241.8,93.8 241.8,93.5 242.6,93.5 243.3,93.5 243.3,93.2 244.0,93.2 244.8,93.2 244.8,93.0 245.5,93.0 246.2,93.0 246.2,92.7 246.9,92.7 247.7,92.7 247.7,92.4 248.4,92.4 249.1,92.4 249.1,92.2 249.9,92.2 250.6,92.2 250.6,92.1 251.3,92.1 252.1,92.1 252.1,91.9 252.8,91.9 253.5,91.9 253.5,91.8 254.2,91.8 255.0,91.8 255.0,91.6 255.7,91.6 256.4,91.6 256.4,91.5 257.2,91.5 257.9,91.5 257.9,91.3 258.6,91.3 259.4,91.3 259.4,91.1 260.1,91.1 260.8,91.1 260.8,91.0 261.5,91.0 262.3,91.0 262.3,90.8 263.0,90.8 263.7,90.8 263.7,90.6 264.5,90.6 265.2,90.6 265.2,90.4 265.9,90.4 266.6,90.4 266.6,90.1 267.4,90.1 268.1,90.1 268.1,89.9 268.8,89.9 269.6,89.9 269.6,89.7 270.3,89.7 271.0,89.7 271.0,89.4 271.8,89.4 272.5,89.4 272.5,89.2 273.2,89.2 274.0,89.2 274.0,88.9 274.7,88.9 275.4,88.9 275.4,88.7 276.1,88.7 276.9,88.7 276.9,88.5 277.6,88.5 278.3,88.5 278.3,88.0 279.0,88.0 279.7,88.0 279.7,87.6 280.4,87.6 281.1,87.6 281.1,87.2 281.8,87.2 282.6,87.2 282.6,86.7 283.3,86.7 284.0,86.7 284.0,86.3 284.7,86.3 285.4,86.3 285.4,85.8 286.1,85.8 286.8,85.8 286.8,85.4 287.5,85.4 288.3,85.4 288.3,85.1 289.0,85.1 289.8,85.1 289.8,84.8 290.5,84.8 291.3,84.8 291.3,84.5 292.0,84.5 292.8,84.5 292.8,84.2 293.6,84.2 294.3,84.2 294.3,83.9 295.1,83.9 295.8,83.9 295.8,83.6 296.6,83.6 297.3,83.6 297.3,83.3 298.1,83.3 298.8,83.3 298.8,83.0 299.6,83.0 300.3,83.0 300.3,82.7 301.1,82.7 301.8,82.7 301.8,82.4 302.5,82.4 303.2,82.4 303.2,82.1 304.0,82.1 304.7,82.1 304.7,81.8 305.4,81.8 306.2,81.8 306.2,81.5 306.9,81.5 307.6,81.5 307.6,81.2 308.4,81.2 309.1,81.2 309.1,80.9 309.8,80.9 310.5,80.9 310.5,80.6 311.3,80.6 312.0,80.6 312.0,80.3 312.7,80.3 313.5,80.3 313.5,80.0 314.2,80.0 314.9,80.0 314.9,79.7 315.7,79.7 316.4,79.7 316.4,79.3 317.1,79.3 317.9,79.3 317.9,78.9 318.6,78.9 319.3,78.9 319.3,78.6 320.0,78.6 320.8,78.6 320.8,78.2 321.5,78.2 322.2,78.2 322.2,77.8 323.0,77.8 323.7,77.8 323.7,77.4 324.4,77.4 325.1,77.4 325.1,77.1 325.9,77.1 326.6,77.1 326.6,76.7 327.3,76.7 328.1,76.7 328.1,76.3 328.8,76.3 329.5,76.3 329.5,76.0 330.3,76.0 331.0,76.0 331.0,75.7 331.7,75.7 332.5,75.7 332.5,75.5 333.2,75.5 333.9,75.5 333.9,75.2 334.6,75.2 335.4,75.2 335.4,74.9 336.1,74.9 336.8,74.9 336.8,74.6 337.6,74.6 338.3,74.6 338.3,74.3 339.0,74.3 339.8,74.3 339.8,74.0 340.5,74.0 341.2,74.0 341.2,73.7 341.9,73.7 342.7,73.7 342.7,73.4 343.4,73.4 344.1,73.4 344.1,73.2 344.9,73.2 345.6,73.2 345.6,72.9 346.3,72.9 347.0,72.9 347.0,72.6 347.8,72.6 348.5,72.6 348.5,72.3 349.2,72.3 350.0,72.3 350.0,72.0 350.7,72.0 351.4,72.0 351.4,71.8 352.2,71.8 352.9,71.8 352.9,71.5 353.6,71.5 354.4,71.5 354.4,71.2 355.1,71.2 355.8,71.2 355.8,70.9 356.5,70.9 357.3,70.9 357.3,70.7 358.0,70.7 358.7,70.7 358.7,70.4 359.5,70.4 360.2,70.4 360.2,70.1 360.9,70.1 361.6,70.1 361.6,69.9 362.4,69.9 363.1,69.9 363.1,69.6 363.8,69.6 364.6,69.6 364.6,69.4 365.3,69.4 366.0,69.4 366.0,69.1 366.8,69.1 367.5,69.1 367.5,68.9 368.2,68.9 369.0,68.9 369.0,68.6 369.7,68.6 370.4,68.6 370.4,68.3 371.1,68.3 371.9,68.3 371.9,68.1 372.6,68.1 373.3,68.1 373.3,67.8 374.1,67.8 374.8,67.8 374.8,67.5 375.6,67.5 376.3,67.5 376.3,67.2 377.1,67.2 377.8,67.2 377.8,66.9 378.5,66.9 379.3,66.9 379.3,66.6 380.0,66.6 380.8,66.6 380.8,66.3 381.5,66.3 382.3,66.3 382.3,66.0 383.0,66.0 383.7,66.0 383.7,65.7 384.4,65.7 385.2,65.7 385.2,65.4 385.9,65.4 386.6,65.4 386.6,65.1 387.4,65.1 388.1,65.1 388.1,64.8 388.8,64.8 389.5,64.8 389.5,64.5 390.2,64.5 391.0,64.5 391.0,64.2 391.7,64.2 392.4,64.2 392.4,63.9 393.2,63.9 393.9,63.9 393.9,63.6 394.6,63.6 395.3,63.6 395.3,63.3 396.1,63.3 396.8,63.3 396.8,63.0 397.5,63.0 398.2,63.0 398.2,62.8 399.0,62.8 399.7,62.8 399.7,62.5 400.4,62.5 401.2,62.5 401.2,62.2 401.9,62.2 402.6,62.2 402.6,61.9 403.4,61.9 404.1,61.9 404.1,61.7 404.8,61.7 405.5,61.7 405.5,61.4 406.3,61.4 407.0,61.4 407.0,61.1 407.7,61.1 408.5,61.1 408.5,60.9 409.2,60.9 409.9,60.9 409.9,60.6 410.7,60.6 411.4,60.6 411.4,60.3 412.1,60.3 412.9,60.3 412.9,60.0 413.6,60.0 414.3,60.0 414.3,59.8 415.0,59.8 415.8,59.8 415.8,59.5 416.5,59.5 417.2,59.5 417.2,59.2 418.0,59.2 418.7,59.2 418.7,58.9 419.4,58.9 420.1,58.9 420.1,58.7 420.9,58.7 421.6,58.7 421.6,58.4 422.3,58.4 423.1,58.4 423.1,58.1 423.8,58.1 424.5,58.1 424.5,57.9 425.3,57.9 426.0,57.9 426.0,57.7 426.7,57.7 427.5,57.7 427.5,57.4 428.2,57.4 428.9,57.4 428.9,57.2 429.6,57.2 430.4,57.2 430.4,57.0 431.1,57.0 431.8,57.0 431.8,56.8 432.6,56.8 433.3,56.8 433.3,56.5 434.0,56.5 434.8,56.5 434.8,56.3 435.5,56.3 436.2,56.3 436.2,56.1 436.9,56.1 437.7,56.1 437.7,55.9 438.4,55.9 439.1,55.9 439.1,55.7 439.9,55.7 440.6,55.7 440.6,55.5 441.3,55.5 442.0,55.5 442.0,55.3 442.8,55.3 443.5,55.3 443.5,55.1 444.2,55.1 445.0,55.1 445.0,54.9 445.7,54.9 446.4,54.9 446.4,54.7 447.2,54.7 447.9,54.7 447.9,54.5 448.6,54.5 449.4,54.5 449.4,54.3 450.1,54.3 450.8,54.3 450.8,54.1 451.5,54.1 452.3,54.1 452.3,54.0 453.0,54.0 453.7,54.0 453.7,53.7 454.5,53.7 455.2,53.7 455.2,53.4 455.9,53.4 456.6,53.4 456.6,53.1 457.4,53.1 458.1,53.1 458.1,52.8 458.8,52.8 459.6,52.8 459.6,52.5 460.3,52.5 461.0,52.5 461.0,52.2 461.8,52.2 462.5,52.2 462.5,51.9 463.2,51.9 464.0,51.9 464.0,51.6 464.7,51.6 465.4,51.6 465.4,51.3 466.1,51.3 466.9,51.3 466.9,51.0 467.6,51.0 468.3,51.0 468.3,50.8 469.0,50.8 469.7,50.8 469.7,50.6 470.4,50.6 471.1,50.6 471.1,50.4 471.8,50.4 472.6,50.4 472.6,50.1 473.3,50.1 474.0,50.1 474.0,49.9 474.7,49.9 475.4,49.9 475.4,49.7 476.1,49.7 476.8,49.7 476.8,49.5 477.5,49.5 478.3,49.5 478.3,49.4 479.0,49.4 479.8,49.4 479.8,49.2 480.5,49.2 481.3,49.2 481.3,49.1 482.0,49.1 482.8,49.1 482.8,49.0 483.6,49.0 484.3,49.0 484.3,48.9 485.1,48.9 485.8,48.9 485.8,48.7 486.6,48.7 487.3,48.7 487.3,48.6 488.1,48.6 488.8,48.6 488.8,48.5 489.6,48.5 490.3,48.5 490.3,48.3 491.1,48.3 491.8,48.3 491.8,48.1 492.5,48.1 493.2,48.1 493.2,47.9 494.0,47.9 494.7,47.9 494.7,47.7 495.4,47.7 496.2,47.7 496.2,47.5 496.9,47.5 497.6,47.5 497.6,47.3 498.4,47.3 499.1,47.3 499.1,47.1 499.8,47.1 500.5,47.1 500.5,46.9 501.3,46.9 502.0,46.9 502.0,46.7 502.7,46.7 503.5,46.7 503.5,46.5 504.2,46.5 504.9,46.5 504.9,46.3 505.7,46.3 506.4,46.3 506.4,46.2 507.1,46.2 507.9,46.2 507.9,46.0 508.6,46.0 509.3,46.0 509.3,45.8 510.0,45.8 510.8,45.8 510.8,45.6 511.5,45.6 512.2,45.6 512.2,45.4 513.0,45.4 513.7,45.4 513.7,45.2 514.4,45.2 515.1,45.2 515.1,45.0 515.9,45.0 516.6,45.0 516.6,44.8 517.3,44.8 518.1,44.8 518.1,44.6 518.8,44.6 519.5,44.6 519.5,44.5 520.3,44.5 521.0,44.5 521.0,44.3 521.7,44.3 522.4,44.3 522.4,44.2 523.2,44.2 523.9,44.2 523.9,44.0 524.6,44.0 525.4,44.0 525.4,43.9 526.1,43.9 526.8,43.9 526.8,43.7 527.6,43.7 528.3,43.7 528.3,43.6 529.0,43.6 529.8,43.6 529.8,43.4 530.5,43.4 531.2,43.4 531.2,43.3 531.9,43.3 532.7,43.3 532.7,43.1 533.4,43.1 534.1,43.1 534.1,43.0 534.9,43.0 535.6,43.0 536.3,43.0 537.0,43.0 537.0,42.9 537.8,42.9 538.5,42.9 538.5,42.8 539.2,42.8 540.0,42.8 540.0,42.7 540.7,42.7 541.4,42.7 541.4,42.6 542.2,42.6 542.9,42.6 542.9,42.5 543.6,42.5 544.4,42.5 544.4,42.4 545.1,42.4 545.8,42.4 545.8,42.3 546.5,42.3 547.3,42.3 547.3,42.2 548.0,42.2 548.7,42.2 548.7,42.1 549.5,42.1 550.2,42.1 550.9,42.1 551.6,42.1 551.6,42.0 552.4,42.0 553.1,42.0 553.1,41.9 553.8,41.9 554.6,41.9 555.3,41.9 556.0,41.9 556.0,41.8 556.8,41.8 557.5,41.8 557.5,41.7 558.2,41.7 559.0,41.7 559.7,41.7 560.4,41.7 560.4,41.6 561.1,41.6 561.9,41.6 561.9,41.5 562.6,41.5 563.4,41.5 563.4,41.3 564.2,41.3 565.0,41.3 565.0,41.1 565.7,41.1 566.5,41.1 566.5,41.0 567.3,41.0 568.1,41.0 568.1,40.8 568.9,40.8 569.7,40.8 569.7,40.6 570.4,40.6 571.2,40.6 571.2,40.4 572.0,40.4 572.8,40.4 572.8,40.0 573.5,40.0 574.2,40.0 574.2,39.7 575.0,39.7 575.8,39.7 575.8,39.4 576.5,39.4 577.2,39.4 577.2,39.1 578.0,39.1 578.8,39.1 578.8,39.0 579.6,39.0 580.4,39.0 580.4,38.9 581.2,38.9 582.0,38.9 582.0,38.8 582.9,38.8 583.7,38.8 584.5,38.8 585.3,38.8 585.3,38.7 586.1,38.7 586.8,38.7 586.8,38.6 587.6,38.6 588.3,38.6 588.3,38.5 589.0,38.5 589.7,38.5 590.5,38.5 591.2,38.5 591.2,38.4 591.9,38.4 592.6,38.4 593.4,38.4 594.1,38.4 594.1,38.3 594.8,38.3 595.6,38.3 595.6,38.2 596.3,38.2 597.0,38.2 597.7,38.2 598.5,38.2 598.5,38.1 599.2,38.1 599.9,38.1 599.9,38.0 600.6,38.0 601.4,38.0 602.1,38.0 602.8,38.0 602.8,37.9 603.6,37.9 604.3,37.9 604.3,37.8 605.0,37.8 605.8,37.8 605.8,37.7 606.5,37.7 607.2,37.7 607.2,37.6 608.0,37.6 608.7,37.6 609.4,37.6 610.2,37.6 610.2,37.5 610.9,37.5 611.6,37.5 611.6,37.4 612.3,37.4 613.1,37.4 613.1,37.3 613.8,37.3 614.5,37.3 614.5,37.2 615.3,37.2 616.0,37.2 616.0,37.1 616.7,37.1 617.5,37.1 617.5,37.0 618.2,37.0 618.9,37.0 618.9,36.9 619.7,36.9 620.4,36.9 620.4,36.7 621.1,36.7 621.8,36.7 621.8,36.6 622.6,36.6 623.3,36.6 623.3,36.4 624.0,36.4 624.7,36.4 624.7,36.3 625.5,36.3 626.2,36.3 626.2,36.1 626.9,36.1 627.7,36.1 627.7,36.0 628.4,36.0 629.1,36.0 629.1,35.8 629.8,35.8 630.6,35.8 630.6,35.7 631.3,35.7 632.0,35.7 632.0,35.5 632.7,35.5 633.5,35.5 633.5,35.4 634.2,35.4 634.9,35.4 634.9,35.2 635.7,35.2 636.4,35.2 636.4,35.0 637.1,35.0 637.9,35.0 637.9,34.9 638.6,34.9 639.3,34.9 639.3,34.7 640.1,34.7 640.8,34.7 640.8,34.5 641.5,34.5 642.2,34.5 642.2,34.4 643.0,34.4 643.7,34.4 643.7,34.2 644.4,34.2 645.2,34.2 645.2,34.0 645.9,34.0 646.6,34.0 646.6,33.9 647.4,33.9 648.1,33.9 648.1,33.7 648.8,33.7 649.6,33.7 649.6,33.6 650.3,33.6 651.0,33.6 651.0,33.4 651.7,33.4 652.4,33.4 652.4,33.2 653.1,33.2 653.8,33.2 653.8,33.1 654.5,33.1 655.2,33.1 655.2,32.9 655.9,32.9 656.6,32.9 656.6,32.7 657.3,32.7 658.0,32.7 658.0,32.5 658.7,32.5 659.4,32.5 659.4,32.4 660.1,32.4 660.8,32.4 660.8,32.2 661.5,32.2 662.2,32.2 662.2,31.5 662.8,31.5 663.5,31.5 663.5,30.8 664.2,30.8 664.8,30.8 664.8,30.0 665.5,30.0 666.2,30.0 666.2,29.3 666.9,29.3 667.5,29.3 667.5,28.6 668.2,28.6 668.9,28.6 668.9,27.9 669.5,27.9 670.2,27.9 670.2,27.1 670.9,27.1 671.5,27.1 671.5,26.4 672.2,26.4" stroke="#008000" stroke-dasharray="14.03,3.89"/>
<polyline id="c-pink" points="68.5,476.3 69.5,440.0 70.5,400.0 71.5,370.0 72.5,345.0 73.6,337.5 73.6,330.0 77.8,330.0 77.8,318.8 82.6,318.8 82.6,300.8 87.7,300.8 87.7,291.3 90.2,291.3 90.2,246.4 95.8,246.4 95.8,228.8 109.1,228.8 109.1,220.3 112.1,220.3 112.1,209.8 118.0,209.8 118.0,191.3 127.2,191.3 127.2,168.9 130.8,168.9 130.8,155.4 142.2,155.4 142.2,144.9 152.0,144.9 152.0,134.3 156.0,134.3 156.0,127.3 160.5,127.3 160.5,124.2 166.0,124.2 166.0,118.2 177.3,118.2 177.3,109.3 192.5,109.3 192.5,99.7 218.8,99.7 218.8,95.3 221.4,95.3 221.4,90.2 227.4,90.2 227.4,81.2 236.4,81.2 236.4,76.9 239.0,76.9 239.0,72.3 283.4,72.3 283.4,63.1 298.1,63.1 298.1,53.8 320.8,53.8 320.8,44.8 472.7,45.0 472.7,34.0 520.0,32.7 600.0,30.2 672.4,26.5" stroke="#FFC0CB" stroke-dasharray="21.63,5.41,3.38,5.41" stroke-dashoffset="4.10"/>
<polyline id="c-blue" points="68.5,476.3 68.5,474.8 68.6,474.8 68.6,473.4 68.6,471.9 68.7,471.9 68.7,470.5 68.7,469.0 68.7,467.5 68.8,467.5 68.8,466.1 68.8,464.6 68.9,464.6 68.9,463.1 68.9,461.7 69.0,461.7 69.0,460.2 69.0,458.8 69.1,458.8 69.1,457.3 69.1,455.8 69.1,454.4 69.2,454.4 69.2,452.9 69.2,451.5 69.3,451.5 69.3,450.0 69.3,448.5 69.4,448.5 69.4,447.1 69.4,445.6 69.5,445.6 69.5,444.1 69.5,442.6 69.6,442.6 69.6,441.2 69.6,439.7 69.7,439.7 69.7,438.2 69.8,438.2 69.8,436.8 69.8,435.3 69.9,435.3 69.9,433.8 69.9,432.4 70.0,432.4 70.0,430.9 70.0,429.4 70.1,429.4 70.1,427.9 70.1,426.5 70.2,426.5 70.2,425.0 70.2,423.6 70.3,423.6 70.3,422.1 70.4,422.1 70.4,420.6 70.4,419.2 70.5,419.2 70.5,417.8 70.6,417.8 70.6,416.3 70.7,416.3 70.7,414.9 70.7,413.4 70.8,413.4 70.8,411.9 70.9,411.9 70.9,410.5 70.9,409.0 71.0,409.0 71.0,407.5 71.0,406.0 71.0,404.5 71.1,404.5 71.1,402.9 71.1,401.4 71.2,401.4 71.2,399.9 71.2,398.4 71.2,396.9 71.3,396.9 71.3,395.4 71.3,393.9 71.4,393.9 71.4,392.4 71.5,392.4 71.5,390.9 71.6,390.9 71.6,389.4 71.7,389.4 71.7,387.9 71.7,386.3 71.8,386.3 71.8,384.8 71.9,384.8 71.9,383.3 72.0,383.3 72.0,381.8 72.1,381.8 72.1,380.3 72.1,378.8 72.2,378.8 72.2,377.3 72.3,377.3 72.3,375.8 72.3,374.3 72.4,374.3 72.4,372.8 72.5,372.8 72.5,371.2 72.6,371.2 72.6,369.7 72.6,368.2 72.7,368.2 72.7,366.7 72.8,366.7 72.8,365.2 72.8,363.7 72.9,363.7 72.9,362.2 73.0,362.2 73.0,360.7 73.1,360.7 73.1,359.2 73.2,359.2 73.2,357.6 73.2,356.1 73.3,356.1 73.3,354.6 73.4,354.6 73.4,353.1 73.5,353.1 73.5,351.6 73.6,351.6 73.6,350.1 73.7,350.1 73.7,348.6 73.8,348.6 73.8,347.2 73.9,347.2 73.9,345.7 74.0,345.7 74.0,344.3 74.1,344.3 74.1,342.8 74.2,342.8 74.3,342.8 74.3,341.3 74.4,341.3 74.4,339.9 74.5,339.9 74.5,338.4 74.6,338.4 74.6,337.0 74.7,337.0 74.7,335.5 74.8,335.5 74.9,335.5 74.9,334.0 75.0,334.0 75.0,332.5 75.1,332.5 75.2,332.5 75.2,331.0 75.3,331.0 75.3,329.5 75.4,329.5 75.5,329.5 75.5,327.9 75.6,327.9 75.6,326.4 75.7,326.4 75.8,326.4 75.8,324.9 75.9,324.9 75.9,323.4 76.0,323.4 76.1,323.4 76.1,321.9 76.2,321.9 76.2,320.4 76.3,320.4 76.4,320.4 76.4,318.9 76.5,318.9 76.5,317.4 76.6,317.4 76.7,317.4 76.7,315.9 76.8,315.9 76.8,314.4 76.9,314.4 77.0,314.4 77.0,312.9 77.1,312.9 77.1,311.3 77.2,311.3 77.3,311.3 77.3,309.8 77.4,309.8 77.4,308.3 77.5,308.3 77.6,308.3 77.6,306.8 77.7,306.8 77.7,305.3 77.8,305.3 77.9,305.3 77.9,303.8 78.0,303.8 78.0,302.3 78.1,302.3 78.2,302.3 78.2,300.8 78.3,300.8 78.3,299.3 78.4,299.3 78.5,299.3 78.5,297.8 78.6,297.8 78.6,296.2 78.7,296.2 78.8,296.2 78.8,294.7 78.9,294.7 78.9,293.2 79.0,293.2 79.1,293.2 79.1,291.7 79.2,291.7 79.2,290.2 79.3,290.2 79.4,290.2 79.4,288.7 79.5,288.7 79.6,288.7 79.6,287.2 79.7,287.2 79.8,287.2 79.8,285.7 79.9,285.7 79.9,284.2 80.0,284.2 80.1,284.2 80.1,282.6 80.2,282.6 80.3,282.6 80.3,281.1 80.4,281.1 80.5,281.1 80.5,279.6 80.6,279.6 80.7,279.6 80.7,278.1 80.8,278.1 80.8,276.6 80.9,276.6 81.0,276.6 81.0,275.1 81.1,275.1 81.2,275.1 81.2,273.5 81.3,273.5 81.3,272.0 81.4,272.0 81.5,272.0 81.5,270.4 81.6,270.4 81.7,270.4 81.7,268.8 81.8,268.8 81.8,267.3 81.9,267.3 82.0,267.3 82.0,265.7 82.1,265.7 82.2,265.7 82.2,264.1 82.3,264.1 82.3,262.6 82.4,262.6 82.5,262.6 82.5,261.0 82.6,261.0 82.7,261.0 82.7,259.6 82.9,259.6 83.0,259.6 83.0,258.2 83.2,258.2 83.3,258.2 83.3,256.8 83.5,256.8 83.6,256.8 83.6,255.4 83.8,255.4 83.9,255.4 83.9,254.0 84.1,254.0 84.2,254.0 84.2,252.6 84.4,252.6 84.5,252.6 84.5,251.2 84.7,251.2 84.8,251.2 84.8,249.8 85.0,249.8 85.1,249.8 85.1,248.4 85.3,248.4 85.5,248.4 85.5,246.9 85.7,246.9 85.9,246.9 85.9,245.4 86.1,245.4 86.3,245.4 86.3,243.9 86.5,243.9 86.7,243.9 86.7,242.4 86.9,242.4 87.1,242.4 87.1,240.8 87.3,240.8 87.6,240.8 87.6,239.3 87.8,239.3 88.0,239.3 88.0,237.8 88.2,237.8 88.4,237.8 88.4,236.3 88.6,236.3 88.8,236.3 88.8,234.8 89.1,234.8 89.3,234.8 89.3,233.3 89.5,233.3 89.7,233.3 89.7,231.8 90.0,231.8 90.2,231.8 90.2,230.3 90.4,230.3 90.6,230.3 90.6,228.7 90.9,228.7 91.1,228.7 91.1,227.2 91.3,227.2 91.5,227.2 91.5,225.7 91.8,225.7 92.0,225.7 92.0,224.2 92.2,224.2 92.4,224.2 92.4,222.7 92.7,222.7 92.9,222.7 92.9,221.2 93.1,221.2 93.4,221.2 93.4,219.7 93.6,219.7 93.9,219.7 93.9,218.2 94.1,218.2 94.3,218.2 94.3,216.7 94.6,216.7 94.8,216.7 94.8,215.2 95.1,215.2 95.3,215.2 95.3,213.7 95.5,213.7 95.8,213.7 95.8,212.2 96.0,212.2 96.3,212.2 96.3,210.7 96.5,210.7 96.7,210.7 96.7,209.3 97.0,209.3 97.2,209.3 97.2,208.0 97.4,208.0 97.6,208.0 97.6,206.6 97.8,206.6 98.1,206.6 98.1,205.3 98.3,205.3 98.5,205.3 98.5,203.9 98.8,203.9 99.0,203.9 99.0,202.5 99.2,202.5 99.4,202.5 99.4,201.2 99.7,201.2 99.9,201.2 99.9,199.8 100.1,199.8 100.3,199.8 100.3,198.5 100.5,198.5 100.8,198.5 100.8,197.1 101.0,197.1 101.3,197.1 101.3,195.7 101.5,195.7 101.8,195.7 101.8,194.4 102.1,194.4 102.4,194.4 102.4,193.0 102.6,193.0 102.9,193.0 102.9,191.6 103.2,191.6 103.4,191.6 103.4,190.2 103.7,190.2 104.0,190.2 104.0,188.9 104.3,188.9 104.5,188.9 104.5,187.5 104.8,187.5 105.2,187.5 105.2,185.9 105.5,185.9 105.9,185.9 105.9,184.4 106.3,184.4 106.6,184.4 106.6,182.8 107.0,182.8 107.3,182.8 107.3,181.3 107.6,181.3 107.9,181.3 107.9,179.9 108.2,179.9 108.5,179.9 108.5,178.4 108.8,178.4 109.1,178.4 109.1,176.9 109.4,176.9 109.7,176.9 109.7,175.5 110.0,175.5 110.3,175.5 110.3,174.0 110.6,174.0 110.9,174.0 110.9,172.7 111.2,172.7 111.6,172.7 111.6,171.4 111.9,171.4 112.2,171.4 112.2,170.2 112.5,170.2 112.8,170.2 112.8,168.9 113.2,168.9 113.5,168.9 113.5,167.6 113.8,167.6 114.1,167.6 114.1,166.4 114.4,166.4 114.7,166.4 114.7,165.1 115.1,165.1 115.4,165.1 115.4,163.8 115.7,163.8 116.1,163.8 116.1,162.5 116.5,162.5 116.9,162.5 116.9,161.2 117.3,161.2 117.8,161.2 117.8,160.0 118.2,160.0 118.6,160.0 118.6,158.7 119.0,158.7 119.4,158.7 119.4,157.4 119.8,157.4 120.2,157.4 120.2,156.2 120.7,156.2 121.1,156.2 121.1,154.9 121.5,154.9 121.9,154.9 121.9,153.6 122.3,153.6 122.8,153.6 122.8,152.4 123.2,152.4 123.7,152.4 123.7,151.2 124.1,151.2 124.6,151.2 124.6,150.0 125.0,150.0 125.5,150.0 125.5,148.8 125.9,148.8 126.4,148.8 126.4,147.7 126.9,147.7 127.3,147.7 127.3,146.5 127.8,146.5 128.2,146.5 128.2,145.3 128.7,145.3 129.1,145.3 129.1,144.1 129.6,144.1 130.1,144.1 130.1,143.0 130.6,143.0 131.2,143.0 131.2,141.8 131.7,141.8 132.2,141.8 132.2,140.7 132.7,140.7 133.2,140.7 133.2,139.5 133.8,139.5 134.3,139.5 134.3,138.4 134.8,138.4 135.3,138.4 135.3,137.2 135.9,137.2 136.4,137.2 136.4,136.1 136.9,136.1 137.4,136.1 137.4,134.8 137.8,134.8 138.3,134.8 138.3,133.6 138.8,133.6 139.3,133.6 139.3,132.3 139.7,132.3 140.2,132.3 140.2,131.1 140.7,131.1 141.1,131.1 141.1,129.8 141.6,129.8 142.1,129.8 142.1,128.6 142.6,128.6 143.0,128.6 143.0,127.3 143.5,127.3 143.9,127.3 143.9,126.1 144.3,126.1 144.7,126.1 144.7,125.0 145.1,125.0 145.5,125.0 145.5,123.8 145.9,123.8 146.3,123.8 146.3,122.7 146.7,122.7 147.1,122.7 147.1,121.5 147.5,121.5 148.0,121.5 148.0,120.5 148.4,120.5 148.9,120.5 148.9,119.4 149.3,119.4 149.8,119.4 149.8,118.4 150.3,118.4 150.7,118.4 150.7,117.3 151.2,117.3 151.6,117.3 151.6,116.3 152.1,116.3 152.6,116.3 152.6,115.3 153.1,115.3 153.7,115.3 153.7,114.2 154.2,114.2 154.7,114.2 154.7,113.2 155.2,113.2 155.8,113.2 155.8,112.1 156.3,112.1 156.8,112.1 156.8,111.1 157.3,111.1 157.8,111.1 157.8,110.1 158.4,110.1 158.9,110.1 158.9,109.0 159.4,109.0 160.0,109.0 160.0,108.1 160.6,108.1 161.2,108.1 161.2,107.1 161.8,107.1 162.4,107.1 162.4,106.1 163.1,106.1 163.7,106.1 163.7,105.2 164.3,105.2 164.9,105.2 164.9,104.2 165.5,104.2 166.1,104.2 166.1,103.3 166.7,103.3 167.3,103.3 167.3,102.5 167.9,102.5 168.5,102.5 168.5,101.8 169.1,101.8 169.7,101.8 169.7,101.1 170.3,101.1 170.9,101.1 170.9,100.3 171.5,100.3 172.1,100.3 172.1,99.6 172.7,99.6 173.3,99.6 173.3,98.9 173.9,98.9 174.6,98.9 174.6,98.1 175.3,98.1 176.0,98.1 176.0,97.3 176.7,97.3 177.4,97.3 177.4,96.4 178.1,96.4 178.8,96.4 178.8,95.6 179.5,95.6 180.2,95.6 180.2,94.8 180.9,94.8 181.5,94.8 181.5,94.0 182.1,94.0 182.7,94.0 182.7,93.3 183.3,93.3 183.9,93.3 183.9,92.5 184.4,92.5 185.0,92.5 185.0,91.7 185.6,91.7 186.2,91.7 186.2,90.9 186.8,90.9 187.4,90.9 187.4,90.2 187.9,90.2 188.6,90.2 188.6,89.3 189.3,89.3 190.0,89.3 190.0,88.4 190.7,88.4 191.4,88.4 191.4,87.6 192.2,87.6 192.9,87.6 192.9,86.7 193.6,86.7 194.3,86.7 194.3,85.9 195.0,85.9 195.6,85.9 195.6,85.1 196.3,85.1 197.0,85.1 197.0,84.3 197.7,84.3 198.4,84.3 198.4,83.5 199.1,83.5 199.8,83.5 199.8,82.7 200.5,82.7 201.2,82.7 201.2,81.9 201.8,81.9 202.5,81.9 202.5,81.1 203.2,81.1 203.9,81.1 203.9,80.3 204.6,80.3 205.3,80.3 205.3,79.6 205.9,79.6 206.6,79.6 206.6,79.0 207.3,79.0 207.9,79.0 207.9,78.3 208.6,78.3 209.2,78.3 209.2,77.6 209.9,77.6 210.6,77.6 210.6,77.0 211.2,77.0 211.9,77.0 211.9,76.3 212.6,76.3 213.2,76.3 213.2,75.6 213.9,75.6 214.6,75.6 214.6,75.0 215.2,75.0 215.9,75.0 215.9,74.3 216.5,74.3 217.2,74.3 217.2,73.7 217.9,73.7 218.5,73.7 218.5,73.0 219.2,73.0 219.9,73.0 219.9,72.4 220.5,72.4 221.2,72.4 221.2,71.8 221.9,71.8 222.5,71.8 222.5,71.2 223.2,71.2 223.8,71.2 223.8,70.6 224.5,70.6 225.2,70.6 225.2,70.0 225.8,70.0 226.5,70.0 226.5,69.4 227.2,69.4 227.8,69.4 227.8,68.8 228.5,68.8 229.2,68.8 229.2,68.3 229.8,68.3 230.5,68.3 230.5,67.7 231.1,67.7 231.8,67.7 231.8,67.1 232.5,67.1 233.1,67.1 233.1,66.5 233.8,66.5 234.5,66.5 234.5,65.9 235.1,65.9 235.8,65.9 235.8,65.4 236.5,65.4 237.1,65.4 237.1,64.9 237.8,64.9 238.4,64.9 238.4,64.3 239.1,64.3 239.8,64.3 239.8,63.8 240.4,63.8 241.1,63.8 241.1,63.3 241.8,63.3 242.4,63.3 242.4,62.7 243.1,62.7 243.8,62.7 243.8,62.2 244.4,62.2 245.1,62.2 245.1,61.6 245.7,61.6 246.4,61.6 246.4,61.1 247.1,61.1 247.7,61.1 247.7,60.6 248.4,60.6 249.1,60.6 249.1,60.1 249.9,60.1 250.6,60.1 250.6,59.5 251.3,59.5 252.1,59.5 252.1,59.0 252.8,59.0 253.5,59.0 253.5,58.5 254.2,58.5 255.0,58.5 255.0,58.0 255.7,58.0 256.4,58.0 256.4,57.5 257.2,57.5 257.9,57.5 257.9,57.0 258.6,57.0 259.4,57.0 259.4,56.5 260.1,56.5 260.8,56.5 260.8,56.0 261.5,56.0 262.3,56.0 262.3,55.5 263.0,55.5 263.7,55.5 263.7,54.9 264.5,54.9 265.2,54.9 265.2,54.3 265.9,54.3 266.6,54.3 266.6,53.7 267.4,53.7 268.1,53.7 268.1,53.1 268.8,53.1 269.6,53.1 269.6,52.5 270.3,52.5 271.0,52.5 271.0,52.0 271.8,52.0 272.5,52.0 272.5,51.4 273.2,51.4 274.0,51.4 274.0,50.8 274.7,50.8 275.4,50.8 275.4,50.2 276.1,50.2 276.9,50.2 276.9,49.6 277.6,49.6 278.3,49.6 278.3,49.1 279.1,49.1 279.8,49.1 279.8,48.6 280.6,48.6 281.3,48.6 281.3,48.0 282.0,48.0 282.8,48.0 282.8,47.5 283.5,47.5 284.3,47.5 284.3,46.9 285.0,46.9 285.7,46.9 285.7,46.2 286.5,46.2 287.2,46.2 287.2,45.5 287.9,45.5 288.6,45.5 288.6,44.8 289.4,44.8 290.1,44.8 290.1,44.1 290.8,44.1 291.6,44.1 291.6,43.3 292.3,43.3 293.0,43.3 293.0,42.9 293.8,42.9 294.5,42.9 294.5,42.6 295.2,42.6 296.0,42.6 296.0,42.2 296.7,42.2 297.4,42.2 297.4,41.8 298.1,41.8 298.9,41.8 298.9,41.4 299.6,41.4 300.3,41.4 300.3,41.1 301.1,41.1 301.8,41.1 301.8,40.8 302.5,40.8 303.2,40.8 303.2,40.6 304.0,40.6 304.7,40.6 304.7,40.3 305.4,40.3 306.2,40.3 306.2,40.0 306.9,40.0 307.6,40.0 307.6,39.7 308.4,39.7 309.1,39.7 309.1,39.4 309.8,39.4 310.5,39.4 310.5,39.1 311.3,39.1 312.0,39.1 312.0,38.8 312.7,38.8 313.5,38.8 313.5,38.5 314.2,38.5 314.9,38.5 314.9,38.2 315.7,38.2 316.4,38.2 316.4,37.9 317.1,37.9 317.9,37.9 317.9,37.6 318.6,37.6 319.3,37.6 319.3,37.3 320.0,37.3 320.8,37.3 320.8,37.0 321.5,37.0 322.2,37.0 322.2,36.7 323.0,36.7 323.7,36.7 323.7,36.4 324.4,36.4 325.1,36.4 325.1,36.1 325.9,36.1 326.6,36.1 326.6,35.8 327.3,35.8 328.1,35.8 328.1,35.5 328.8,35.5 329.5,35.5 329.5,35.3 330.3,35.3 331.0,35.3 331.0,35.1 331.7,35.1 332.5,35.1 332.5,34.9 333.2,34.9 333.9,34.9 333.9,34.7 334.6,34.7 335.4,34.7 335.4,34.5 336.1,34.5 336.8,34.5 336.8,34.3 337.6,34.3 338.3,34.3 338.3,34.1 339.0,34.1 339.8,34.1 339.8,33.9 340.5,33.9 341.2,33.9 341.2,33.7 341.9,33.7 342.7,33.7 342.7,33.5 343.4,33.5 344.1,33.5 344.1,33.4 344.9,33.4 345.6,33.4 345.6,33.2 346.3,33.2 347.0,33.2 347.0,33.1 347.8,33.1 348.5,33.1 348.5,32.9 349.2,32.9 350.0,32.9 350.0,32.8 350.7,32.8 351.4,32.8 351.4,32.7 352.2,32.7 352.9,32.7 352.9,32.5 353.6,32.5 354.4,32.5 354.4,32.4 355.1,32.4 355.8,32.4 355.8,32.2 356.5,32.2 357.3,32.2 357.3,32.1 358.0,32.1 358.7,32.1 358.7,32.0 359.5,32.0 360.2,32.0 360.2,31.9 360.9,31.9 361.6,31.9 361.6,31.8 362.4,31.8 363.1,31.8 363.1,31.7 363.8,31.7 364.6,31.7 364.6,31.6 365.3,31.6 366.0,31.6 366.0,31.5 366.8,31.5 367.5,31.5 367.5,31.4 368.2,31.4 369.0,31.4 369.0,31.3 369.7,31.3 370.4,31.3 370.4,31.2 371.1,31.2 371.9,31.2 371.9,31.1 372.6,31.1 373.4,31.1 373.4,31.0 374.2,31.0 374.9,31.0 374.9,30.9 375.7,30.9 376.5,30.9 376.5,30.8 377.2,30.8 378.0,30.8 378.0,30.7 378.8,30.7 379.6,30.7 379.6,30.6 380.4,30.6 381.1,30.6 381.1,30.5 381.9,30.5 382.7,30.5 382.7,30.4 383.4,30.4 384.2,30.4 384.2,30.3 385.0,30.3 385.8,30.3 385.8,30.2 386.5,30.2 387.3,30.2 388.0,30.2 388.8,30.2 388.8,30.1 389.5,30.1 390.3,30.1 390.3,30.0 391.1,30.0 391.8,30.0 392.6,30.0 393.3,30.0 393.3,29.9 394.1,29.9 394.8,29.9 394.8,29.8 395.6,29.8 396.3,29.8 396.3,29.7 397.1,29.7 397.9,29.7 398.6,29.7 399.4,29.7 399.4,29.6 400.1,29.6 400.9,29.6 400.9,29.5 401.6,29.5 402.4,29.5 402.4,29.4 403.1,29.4 403.9,29.4 404.7,29.4 405.4,29.4 405.4,29.3 406.2,29.3 406.9,29.3 406.9,29.2 407.7,29.2 408.4,29.2 409.2,29.2 410.0,29.2 410.0,29.1 410.7,29.1 411.5,29.1 412.3,29.1 413.0,29.1 413.8,29.1 414.6,29.1 415.3,29.1 416.1,29.1 416.1,29.0 416.9,29.0 417.7,29.0 418.4,29.0 419.2,29.0 420.0,29.0 420.7,29.0 420.7,28.9 421.5,28.9 422.3,28.9 423.0,28.9 423.8,28.9 424.6,28.9 425.3,28.9 426.1,28.9 426.9,28.9 426.9,28.8 427.6,28.8 428.4,28.8 429.2,28.8 429.9,28.8 430.7,28.8 431.5,28.8 432.3,28.8 433.0,28.8 433.0,28.7 433.8,28.7 434.6,28.7 435.3,28.7 436.1,28.7 436.9,28.7 437.6,28.7 437.6,28.6 438.4,28.6 439.1,28.6 439.9,28.6 440.6,28.6 441.4,28.6 442.1,28.6 442.9,28.6 443.6,28.6 444.3,28.6 445.1,28.6 445.8,28.6 446.6,28.6 447.3,28.6 448.1,28.6 448.8,28.6 449.5,28.6 450.3,28.6 451.0,28.6 451.8,28.6 452.5,28.6 453.3,28.6 454.0,28.6 454.0,28.5 454.7,28.5 455.5,28.5 456.2,28.5 457.0,28.5 457.7,28.5 458.5,28.5 459.2,28.5 459.9,28.5 460.7,28.5 461.4,28.5 462.2,28.5 462.9,28.5 463.7,28.5 464.4,28.5 465.1,28.5 465.9,28.5 466.6,28.5 467.4,28.5 467.4,28.4 468.1,28.4 468.9,28.4 469.6,28.4 470.3,28.4 471.1,28.4 471.8,28.4 472.6,28.4 473.3,28.4 474.1,28.4 474.8,28.4 475.5,28.4 476.3,28.4 477.0,28.4 477.8,28.4 478.5,28.4 479.3,28.4 480.0,28.4 480.8,28.4 481.5,28.4 482.3,28.4 483.0,28.4 483.8,28.4 484.5,28.4 485.3,28.4 486.0,28.4 486.8,28.4 486.8,28.3 487.5,28.3 488.3,28.3 489.0,28.3 489.8,28.3 490.6,28.3 491.3,28.3 492.1,28.3 492.8,28.3 493.6,28.3 494.3,28.3 495.1,28.3 495.8,28.3 496.6,28.3 497.3,28.3 498.1,28.3 498.8,28.3 499.6,28.3 500.4,28.3 501.1,28.3 501.9,28.3 502.6,28.3 503.4,28.3 504.1,28.3 504.9,28.3 505.6,28.3 506.4,28.3 507.1,28.3 507.9,28.3 508.7,28.3 509.4,28.3 510.2,28.3 510.9,28.3 511.7,28.3 512.4,28.3 513.2,28.3 513.9,28.3 514.7,28.3 515.4,28.3 516.2,28.3 516.9,28.3 517.7,28.3 518.5,28.3 519.2,28.3 520.0,28.3 520.0,28.2 520.7,28.2 521.5,28.2 522.2,28.2 523.0,28.2 523.7,28.2 524.5,28.2 525.2,28.2 526.0,28.2 526.7,28.2 527.5,28.2 528.3,28.2 529.0,28.2 529.8,28.2 530.5,28.2 531.3,28.2 532.0,28.2 532.8,28.2 533.5,28.2 534.3,28.2 535.0,28.2 535.8,28.2 536.5,28.2 537.3,28.2 538.1,28.2 538.8,28.2 539.6,28.2 540.3,28.2 541.1,28.2 541.8,28.2 542.6,28.2 543.3,28.2 544.1,28.2 544.8,28.2 545.6,28.2 546.3,28.2 547.1,28.2 547.9,28.2 548.6,28.2 549.4,28.2 550.1,28.2 550.9,28.2 551.6,28.2 552.4,28.2 553.1,28.2 553.9,28.2 554.6,28.2 554.6,28.1 555.4,28.1 556.2,28.1 556.9,28.1 557.7,28.1 558.4,28.1 559.2,28.1 559.9,28.1 560.7,28.1 561.4,28.1 562.2,28.1 562.9,28.1 563.7,28.1 564.4,28.1 565.2,28.1 566.0,28.1 566.7,28.1 567.5,28.1 568.2,28.1 569.0,28.1 569.7,28.1 570.5,28.1 571.2,28.1 572.0,28.1 572.7,28.1 573.5,28.1 574.2,28.1 575.0,28.1 575.8,28.1 576.5,28.1 577.3,28.1 578.0,28.1 578.8,28.1 579.5,28.1 580.3,28.1 580.3,28.0 581.0,28.0 581.8,28.0 582.6,28.0 583.3,28.0 584.1,28.0 584.8,28.0 585.6,28.0 586.3,28.0 587.1,28.0 587.8,28.0 588.6,28.0 589.4,28.0 590.1,28.0 590.9,28.0 590.9,27.9 591.6,27.9 592.4,27.9 593.1,27.9 593.9,27.9 594.7,27.9 595.4,27.9 596.2,27.9 596.9,27.9 597.7,27.9 598.4,27.9 599.2,27.9 599.9,27.9 600.7,27.9 601.5,27.9 602.2,27.9 603.0,27.9 603.0,27.8 603.7,27.8 604.5,27.8 605.2,27.8 606.0,27.8 606.7,27.8 607.5,27.8 608.3,27.8 609.0,27.8 609.8,27.8 610.5,27.8 611.3,27.8 612.0,27.8 612.8,27.8 613.5,27.8 614.3,27.8 615.1,27.8 615.1,27.7 615.8,27.7 616.6,27.7 617.3,27.7 618.1,27.7 618.8,27.7 619.6,27.7 620.3,27.7 621.1,27.7 621.9,27.7 622.6,27.7 623.4,27.7 624.1,27.7 624.9,27.7 625.6,27.7 625.6,27.6 626.4,27.6 627.2,27.6 627.9,27.6 628.7,27.6 629.4,27.6 630.2,27.6 630.9,27.6 631.7,27.6 632.4,27.6 633.2,27.6 634.0,27.6 634.7,27.6 635.5,27.6 636.2,27.6 637.0,27.6 637.7,27.6 637.7,27.5 638.5,27.5 639.2,27.5 640.0,27.5 640.8,27.5 641.5,27.5 642.3,27.5 642.3,27.4 643.1,27.4 643.8,27.4 644.6,27.4 645.4,27.4 645.4,27.3 646.1,27.3 646.9,27.3 647.7,27.3 648.4,27.3 648.4,27.2 649.2,27.2 650.0,27.2 650.7,27.2 651.5,27.2 651.5,27.1 652.3,27.1 653.0,27.1 653.0,27.0 653.8,27.0 654.6,27.0 655.3,27.0 656.1,27.0 656.1,26.9 656.9,26.9 657.6,26.9 658.4,26.9 659.2,26.9 659.2,26.8 659.9,26.8 660.7,26.8 661.5,26.8 662.2,26.8 662.2,26.7 663.0,26.7 663.8,26.7 664.5,26.7 665.3,26.7 665.3,26.6 666.1,26.6 666.8,26.6 667.6,26.6 668.4,26.6 668.4,26.5 669.1,26.5 669.9,26.5 670.7,26.5 671.4,26.5 671.4,26.4 672.2,26.4" stroke="#00BFFF" stroke-dasharray="3.38,5.58" stroke-linejoin="bevel"/>
<polyline id="c-purple" points="68.5,476.3 68.5,474.8 68.5,473.3 68.5,471.8 68.5,470.2 68.5,468.7 68.5,467.2 68.5,465.7 68.5,464.2 68.5,462.7 68.5,461.2 68.5,459.7 68.5,458.1 68.6,458.1 68.6,456.6 68.6,455.1 68.6,453.6 68.6,452.1 68.6,450.6 68.6,449.1 68.6,447.6 68.6,446.1 68.6,444.5 68.6,443.0 68.6,441.5 68.6,440.0 68.6,438.5 68.6,437.0 68.6,435.6 68.6,434.1 68.7,434.1 68.7,432.6 68.7,431.1 68.7,429.6 68.7,428.1 68.7,426.7 68.7,425.2 68.7,423.7 68.7,422.2 68.7,420.7 68.8,420.7 68.8,419.3 68.8,417.8 68.8,416.3 68.8,414.8 68.8,413.3 68.8,411.9 68.8,410.4 68.8,408.9 68.8,407.4 68.8,405.9 68.9,405.9 68.9,404.4 68.9,403.0 68.9,401.5 68.9,400.0 68.9,398.5 68.9,397.0 68.9,395.5 68.9,394.0 69.0,394.0 69.0,392.5 69.0,391.0 69.0,389.5 69.0,388.0 69.0,386.5 69.0,385.0 69.0,383.5 69.0,382.0 69.0,380.5 69.1,380.5 69.1,379.0 69.1,377.5 69.1,376.0 69.1,374.5 69.1,373.0 69.1,371.5 69.1,370.0 69.1,368.5 69.2,368.5 69.2,367.0 69.2,365.5 69.2,364.0 69.2,362.5 69.2,361.0 69.2,359.5 69.2,358.0 69.2,356.5 69.2,355.0 69.3,355.0 69.3,353.5 69.3,352.0 69.3,350.5 69.3,349.0 69.3,347.5 69.3,346.0 69.3,344.5 69.3,343.0 69.3,341.5 69.4,341.5 69.4,340.0 69.4,338.5 69.4,337.0 69.4,335.5 69.4,333.9 69.5,333.9 69.5,332.4 69.6,332.4 69.6,330.9 69.7,330.9 69.7,329.3 69.8,329.3 69.8,327.8 69.8,326.2 69.9,326.2 69.9,324.6 70.0,324.6 70.0,323.1 70.1,323.1 70.1,321.6 70.2,321.6 70.2,320.0 70.2,318.5 70.3,318.5 70.3,317.0 70.3,315.5 70.4,315.5 70.4,314.1 70.4,312.6 70.5,312.6 70.5,311.1 70.5,309.6 70.6,309.6 70.6,308.1 70.6,306.6 70.7,306.6 70.7,305.1 70.7,303.6 70.8,303.6 70.8,302.2 70.8,300.7 70.9,300.7 70.9,299.2 70.9,297.7 71.0,297.7 71.0,296.2 71.0,294.7 71.1,294.7 71.1,293.2 71.2,293.2 71.2,291.6 71.3,291.6 71.3,290.1 71.3,288.6 71.4,288.6 71.4,287.1 71.5,287.1 71.5,285.6 71.6,285.6 71.6,284.1 71.6,282.6 71.7,282.6 71.7,281.1 71.8,281.1 71.8,279.5 71.8,278.0 71.9,278.0 71.9,276.5 72.0,276.5 72.0,275.0 72.1,275.0 72.1,273.5 72.1,272.0 72.2,272.0 72.2,270.5 72.3,270.5 72.3,269.0 72.4,269.0 72.4,267.5 72.5,267.5 72.5,266.0 72.5,264.5 72.6,264.5 72.6,263.0 72.7,263.0 72.7,261.5 72.8,261.5 72.8,260.0 72.8,258.5 72.9,258.5 72.9,257.1 72.9,255.6 73.0,255.6 73.0,254.2 73.0,252.7 73.1,252.7 73.1,251.2 73.1,249.8 73.2,249.8 73.2,248.3 73.2,246.9 73.3,246.9 73.3,245.4 73.3,243.9 73.4,243.9 73.4,242.4 73.5,242.4 73.5,240.9 73.6,240.9 73.7,240.9 73.7,239.4 73.8,239.4 73.8,237.9 73.8,236.3 73.9,236.3 73.9,234.8 74.0,234.8 74.0,233.3 74.1,233.3 74.2,233.3 74.2,231.8 74.2,230.3 74.3,230.3 74.4,230.3 74.4,228.8 74.5,228.8 74.5,227.3 74.6,227.3 74.7,227.3 74.7,225.8 74.8,225.8 74.8,224.3 74.9,224.3 75.0,224.3 75.0,222.8 75.1,222.8 75.1,221.2 75.2,221.2 75.3,221.2 75.3,219.7 75.4,219.7 75.4,218.2 75.5,218.2 75.6,218.2 75.6,216.7 75.7,216.7 75.7,215.2 75.8,215.2 75.9,215.2 75.9,213.7 76.0,213.7 76.1,213.7 76.1,212.2 76.2,212.2 76.3,212.2 76.3,210.7 76.4,210.7 76.5,210.7 76.5,209.2 76.6,209.2 76.7,209.2 76.7,207.6 76.8,207.6 76.9,207.6 76.9,206.1 77.0,206.1 77.1,206.1 77.1,204.6 77.2,204.6 77.3,204.6 77.3,203.1 77.4,203.1 77.5,203.1 77.5,201.6 77.6,201.6 77.7,201.6 77.7,200.1 77.8,200.1 77.9,200.1 77.9,198.7 78.0,198.7 78.1,198.7 78.1,197.2 78.2,197.2 78.3,197.2 78.3,195.8 78.4,195.8 78.5,195.8 78.5,194.3 78.7,194.3 78.8,194.3 78.8,192.9 78.9,192.9 79.0,192.9 79.0,191.4 79.1,191.4 79.2,191.4 79.2,190.0 79.3,190.0 79.4,190.0 79.4,188.6 79.5,188.6 79.7,188.6 79.7,187.1 79.8,187.1 79.9,187.1 79.9,185.7 80.0,185.7 80.1,185.7 80.1,184.2 80.2,184.2 80.4,184.2 80.4,182.8 80.5,182.8 80.6,182.8 80.6,181.3 80.7,181.3 80.8,181.3 80.8,179.8 81.0,179.8 81.1,179.8 81.1,178.4 81.2,178.4 81.4,178.4 81.4,176.9 81.5,176.9 81.7,176.9 81.7,175.5 81.8,175.5 82.0,175.5 82.0,174.0 82.2,174.0 82.3,174.0 82.3,172.6 82.5,172.6 82.7,172.6 82.7,171.1 82.8,171.1 83.0,171.1 83.0,169.7 83.1,169.7 83.3,169.7 83.3,168.2 83.5,168.2 83.7,168.2 83.7,166.7 83.9,166.7 84.1,166.7 84.1,165.3 84.3,165.3 84.5,165.3 84.5,163.8 84.7,163.8 84.9,163.8 84.9,162.3 85.2,162.3 85.4,162.3 85.4,160.9 85.6,160.9 85.8,160.9 85.8,159.4 86.0,159.4 86.2,159.4 86.2,158.0 86.4,158.0 86.6,158.0 86.6,156.5 86.8,156.5 87.1,156.5 87.1,155.0 87.4,155.0 87.7,155.0 87.7,153.6 87.9,153.6 88.2,153.6 88.2,152.1 88.5,152.1 88.8,152.1 88.8,150.7 89.0,150.7 89.3,150.7 89.3,149.2 89.6,149.2 89.9,149.2 89.9,147.8 90.1,147.8 90.4,147.8 90.4,146.3 90.7,146.3 91.0,146.3 91.0,144.8 91.3,144.8 91.6,144.8 91.6,143.4 92.0,143.4 92.3,143.4 92.3,141.9 92.6,141.9 92.9,141.9 92.9,140.5 93.2,140.5 93.5,140.5 93.5,139.0 93.8,139.0 94.2,139.0 94.2,137.6 94.5,137.6 94.8,137.6 94.8,136.1 95.1,136.1 95.5,136.1 95.5,134.8 95.8,134.8 96.2,134.8 96.2,133.6 96.6,133.6 96.9,133.6 96.9,132.3 97.3,132.3 97.7,132.3 97.7,131.1 98.0,131.1 98.4,131.1 98.4,129.8 98.7,129.8 99.1,129.8 99.1,128.6 99.5,128.6 99.8,128.6 99.8,127.3 100.2,127.3 100.6,127.3 100.6,125.9 100.9,125.9 101.2,125.9 101.2,124.5 101.6,124.5 102.0,124.5 102.0,123.2 102.3,123.2 102.7,123.2 102.7,121.8 103.0,121.8 103.3,121.8 103.3,120.4 103.7,120.4 104.1,120.4 104.1,119.2 104.5,119.2 104.9,119.2 104.9,118.0 105.3,118.0 105.8,118.0 105.8,116.8 106.2,116.8 106.6,116.8 106.6,115.6 107.0,115.6 107.4,115.6 107.4,114.4 107.8,114.4 108.2,114.4 108.2,113.2 108.7,113.2 109.1,113.2 109.1,112.0 109.5,112.0 109.9,112.0 109.9,110.8 110.3,110.8 110.9,110.8 110.9,109.9 111.4,109.9 112.0,109.9 112.0,109.0 112.6,109.0 113.2,109.0 113.2,108.1 113.7,108.1 114.3,108.1 114.3,107.1 114.9,107.1 115.4,107.1 115.4,106.2 116.0,106.2 116.6,106.2 116.6,105.3 117.2,105.3 117.7,105.3 117.7,104.4 118.3,104.4 118.9,104.4 118.9,103.6 119.6,103.6 120.2,103.6 120.2,102.8 120.8,102.8 121.5,102.8 121.5,102.1 122.1,102.1 122.7,102.1 122.7,101.3 123.4,101.3 124.0,101.3 124.0,100.5 124.6,100.5 125.3,100.5 125.3,99.7 125.9,99.7 126.6,99.7 126.6,98.9 127.2,98.9 127.8,98.9 127.8,98.2 128.5,98.2 129.1,98.2 129.1,97.4 129.7,97.4 130.4,97.4 130.4,96.7 131.0,96.7 131.6,96.7 131.6,96.1 132.3,96.1 132.9,96.1 132.9,95.4 133.6,95.4 134.2,95.4 134.2,94.8 134.8,94.8 135.5,94.8 135.5,94.1 136.1,94.1 136.8,94.1 136.8,93.5 137.4,93.5 138.0,93.5 138.0,92.8 138.7,92.8 139.3,92.8 139.3,92.2 140.0,92.2 140.6,92.2 140.6,91.5 141.2,91.5 141.9,91.5 141.9,90.9 142.5,90.9 143.2,90.9 143.2,90.2 143.8,90.2 144.5,90.2 144.5,89.7 145.1,89.7 145.8,89.7 145.8,89.1 146.5,89.1 147.1,89.1 147.1,88.6 147.8,88.6 148.4,88.6 148.4,88.0 149.1,88.0 149.8,88.0 149.8,87.5 150.4,87.5 151.1,87.5 151.1,86.9 151.8,86.9 152.4,86.9 152.4,86.4 153.1,86.4 153.8,86.4 153.8,85.8 154.4,85.8 155.1,85.8 155.1,85.3 155.7,85.3 156.4,85.3 156.4,84.7 157.1,84.7 157.7,84.7 157.7,84.2 158.4,84.2 159.1,84.2 159.1,83.7 159.9,83.7 160.6,83.7 160.6,83.3 161.3,83.3 162.0,83.3 162.0,82.8 162.8,82.8 163.5,82.8 163.5,82.4 164.2,82.4 165.0,82.4 165.0,81.9 165.7,81.9 166.4,81.9 166.4,81.5 167.1,81.5 167.9,81.5 167.9,81.0 168.6,81.0 169.2,81.0 169.2,80.4 169.9,80.4 170.6,80.4 170.6,79.9 171.2,79.9 171.8,79.9 171.8,79.3 172.5,79.3 173.2,79.3 173.2,78.7 173.8,78.7 174.4,78.7 174.4,78.2 175.1,78.2 175.8,78.2 175.8,77.6 176.4,77.6 177.1,77.6 177.1,77.0 177.7,77.0 178.4,77.0 178.4,76.5 179.0,76.5 179.7,76.5 179.7,75.9 180.3,75.9 181.0,75.9 181.0,75.4 181.7,75.4 182.4,75.4 182.4,74.8 183.1,74.8 183.8,74.8 183.8,74.2 184.5,74.2 185.2,74.2 185.2,73.6 185.8,73.6 186.5,73.6 186.5,73.1 187.2,73.1 187.9,73.1 187.9,72.5 188.6,72.5 189.3,72.5 189.3,71.9 190.0,71.9 190.7,71.9 190.7,71.5 191.5,71.5 192.2,71.5 192.2,71.1 192.9,71.1 193.6,71.1 193.6,70.6 194.4,70.6 195.1,70.6 195.1,70.2 195.8,70.2 196.6,70.2 196.6,69.7 197.3,69.7 198.0,69.7 198.0,69.3 198.8,69.3 199.5,69.3 199.5,68.9 200.2,68.9 200.9,68.9 200.9,68.4 201.7,68.4 202.4,68.4 202.4,68.0 203.1,68.0 203.9,68.0 203.9,67.5 204.6,67.5 205.3,67.5 205.3,67.2 206.1,67.2 206.8,67.2 206.8,66.8 207.5,66.8 208.2,66.8 208.2,66.5 209.0,66.5 209.7,66.5 209.7,66.1 210.4,66.1 211.2,66.1 211.2,65.8 211.9,65.8 212.6,65.8 212.6,65.4 213.4,65.4 214.1,65.4 214.1,65.0 214.8,65.0 215.6,65.0 215.6,64.7 216.3,64.7 217.0,64.7 217.0,64.3 217.7,64.3 218.5,64.3 218.5,64.0 219.2,64.0 219.9,64.0 219.9,63.7 220.7,63.7 221.4,63.7 221.4,63.4 222.1,63.4 222.8,63.4 222.8,63.1 223.6,63.1 224.3,63.1 224.3,62.8 225.0,62.8 225.8,62.8 225.8,62.5 226.5,62.5 227.2,62.5 227.2,62.2 228.0,62.2 228.7,62.2 228.7,61.9 229.4,61.9 230.2,61.9 230.2,61.6 230.9,61.6 231.6,61.6 231.6,61.3 232.3,61.3 233.1,61.3 233.1,61.0 233.8,61.0 234.5,61.0 234.5,60.7 235.3,60.7 236.0,60.7 236.0,60.3 236.7,60.3 237.4,60.3 237.4,60.0 238.2,60.0 238.9,60.0 238.9,59.7 239.6,59.7 240.4,59.7 240.4,59.4 241.1,59.4 241.8,59.4 241.8,59.1 242.6,59.1 243.3,59.1 243.3,58.8 244.0,58.8 244.8,58.8 244.8,58.4 245.5,58.4 246.2,58.4 246.2,58.1 246.9,58.1 247.7,58.1 247.7,57.8 248.4,57.8 249.1,57.8 249.1,57.6 249.9,57.6 250.6,57.6 250.6,57.3 251.3,57.3 252.1,57.3 252.1,57.1 252.8,57.1 253.5,57.1 253.5,56.8 254.2,56.8 255.0,56.8 255.0,56.6 255.7,56.6 256.4,56.6 256.4,56.4 257.2,56.4 257.9,56.4 257.9,56.1 258.6,56.1 259.4,56.1 259.4,55.9 260.1,55.9 260.8,55.9 260.8,55.7 261.5,55.7 262.3,55.7 262.3,55.4 263.0,55.4 263.7,55.4 263.7,55.2 264.5,55.2 265.2,55.2 265.2,54.9 265.9,54.9 266.6,54.9 266.6,54.6 267.4,54.6 268.1,54.6 268.1,54.4 268.8,54.4 269.6,54.4 269.6,54.1 270.3,54.1 271.0,54.1 271.0,53.8 271.8,53.8 272.5,53.8 272.5,53.6 273.2,53.6 274.0,53.6 274.0,53.3 274.7,53.3 275.4,53.3 275.4,53.0 276.1,53.0 276.9,53.0 276.9,52.8 277.6,52.8 278.4,52.8 278.4,52.5 279.2,52.5 279.9,52.5 279.9,52.3 280.7,52.3 281.5,52.3 281.5,52.1 282.2,52.1 283.0,52.1 283.0,51.8 283.8,51.8 284.6,51.8 284.6,51.6 285.4,51.6 286.1,51.6 286.1,51.4 286.9,51.4 287.7,51.4 287.7,51.1 288.4,51.1 289.2,51.1 289.2,50.9 290.0,50.9 290.8,50.9 290.8,50.7 291.6,50.7 292.4,50.7 292.4,50.4 293.2,50.4 294.0,50.4 294.0,50.2 294.8,50.2 295.6,50.2 295.6,50.0 296.4,50.0 297.2,50.0 297.2,49.8 298.0,49.8 298.8,49.8 298.8,49.5 299.6,49.5 300.3,49.5 300.3,49.4 301.1,49.4 301.8,49.4 301.8,49.3 302.5,49.3 303.2,49.3 303.2,49.2 304.0,49.2 304.7,49.2 304.7,49.1 305.4,49.1 306.2,49.1 306.2,48.9 306.9,48.9 307.6,48.9 307.6,48.8 308.4,48.8 309.1,48.8 309.1,48.7 309.8,48.7 310.5,48.7 310.5,48.6 311.3,48.6 312.0,48.6 312.0,48.5 312.7,48.5 313.5,48.5 313.5,48.4 314.2,48.4 314.9,48.4 314.9,48.2 315.7,48.2 316.4,48.2 316.4,48.0 317.1,48.0 317.9,48.0 317.9,47.9 318.6,47.9 319.3,47.9 319.3,47.7 320.0,47.7 320.8,47.7 320.8,47.5 321.5,47.5 322.2,47.5 322.2,47.4 323.0,47.4 323.7,47.4 323.7,47.2 324.4,47.2 325.1,47.2 325.1,47.0 325.9,47.0 326.6,47.0 326.6,46.9 327.3,46.9 328.1,46.9 328.1,46.7 328.8,46.7 329.5,46.7 329.5,46.6 330.3,46.6 331.0,46.6 331.0,46.5 331.7,46.5 332.5,46.5 332.5,46.4 333.2,46.4 333.9,46.4 333.9,46.3 334.6,46.3 335.4,46.3 335.4,46.2 336.1,46.2 336.8,46.2 336.8,46.1 337.6,46.1 338.3,46.1 338.3,46.0 339.0,46.0 339.8,46.0 339.8,45.9 340.5,45.9 341.2,45.9 341.2,45.8 341.9,45.8 342.7,45.8 342.7,45.6 343.4,45.6 344.1,45.6 344.9,45.6 345.6,45.6 346.3,45.6 347.0,45.6 347.0,45.5 347.8,45.5 348.5,45.5 349.2,45.5 350.0,45.5 350.0,45.4 350.7,45.4 351.4,45.4 352.2,45.4 352.9,45.4 352.9,45.3 353.6,45.3 354.4,45.3 355.1,45.3 355.8,45.3 355.8,45.2 356.5,45.2 357.3,45.2 358.0,45.2 358.7,45.2 358.7,45.0 359.5,45.0 360.2,45.0 360.2,44.8 360.9,44.8 361.6,44.8 361.6,44.7 362.4,44.7 363.1,44.7 363.1,44.5 363.8,44.5 364.6,44.5 364.6,44.3 365.3,44.3 366.0,44.3 366.0,44.1 366.8,44.1 367.5,44.1 367.5,43.9 368.2,43.9 369.0,43.9 369.0,43.8 369.7,43.8 370.4,43.8 370.4,43.6 371.1,43.6 371.9,43.6 371.9,43.4 372.6,43.4 373.4,43.4 373.4,43.3 374.2,43.3 374.9,43.3 374.9,43.1 375.7,43.1 376.5,43.1 376.5,43.0 377.2,43.0 378.0,43.0 378.0,42.8 378.8,42.8 379.6,42.8 379.6,42.7 380.4,42.7 381.1,42.7 381.1,42.6 381.9,42.6 382.7,42.6 382.7,42.4 383.4,42.4 384.2,42.4 384.2,42.3 385.0,42.3 385.8,42.3 385.8,42.2 386.5,42.2 387.3,42.2 387.3,42.1 388.0,42.1 388.8,42.1 388.8,42.0 389.5,42.0 390.3,42.0 390.3,41.8 391.1,41.8 391.8,41.8 391.8,41.7 392.6,41.7 393.3,41.7 393.3,41.6 394.1,41.6 394.8,41.6 394.8,41.5 395.6,41.5 396.3,41.5 396.3,41.4 397.1,41.4 397.9,41.4 397.9,41.3 398.6,41.3 399.4,41.3 399.4,41.2 400.1,41.2 400.9,41.2 400.9,41.1 401.6,41.1 402.4,41.1 402.4,41.0 403.1,41.0 403.9,41.0 403.9,40.8 404.7,40.8 405.4,40.8 405.4,40.7 406.2,40.7 406.9,40.7 406.9,40.6 407.7,40.6 408.4,40.6 408.4,40.5 409.2,40.5 409.9,40.5 409.9,40.4 410.7,40.4 411.4,40.4 411.4,40.3 412.1,40.3 412.9,40.3 412.9,40.2 413.6,40.2 414.3,40.2 414.3,40.1 415.0,40.1 415.8,40.1 415.8,39.9 416.5,39.9 417.2,39.9 417.2,39.8 418.0,39.8 418.7,39.8 418.7,39.7 419.4,39.7 420.1,39.7 420.1,39.6 420.9,39.6 421.6,39.6 421.6,39.5 422.3,39.5 423.1,39.5 423.1,39.4 423.8,39.4 424.5,39.4 424.5,39.3 425.3,39.3 426.0,39.3 426.0,39.2 426.7,39.2 427.4,39.2 427.4,39.1 428.2,39.1 428.9,39.1 428.9,38.9 429.6,38.9 430.4,38.9 430.4,38.8 431.1,38.8 431.8,38.8 431.8,38.7 432.6,38.7 433.3,38.7 433.3,38.6 434.0,38.6 434.8,38.6 434.8,38.5 435.5,38.5 436.2,38.5 436.2,38.4 436.9,38.4 437.7,38.4 437.7,38.3 438.4,38.3 439.1,38.3 439.1,38.2 439.9,38.2 440.6,38.2 440.6,38.0 441.3,38.0 442.0,38.0 442.0,37.9 442.8,37.9 443.5,37.9 443.5,37.8 444.2,37.8 445.0,37.8 445.0,37.6 445.7,37.6 446.4,37.6 446.4,37.5 447.2,37.5 447.9,37.5 447.9,37.4 448.6,37.4 449.4,37.4 449.4,37.3 450.1,37.3 450.8,37.3 450.8,37.1 451.5,37.1 452.3,37.1 452.3,37.0 453.0,37.0 453.7,37.0 453.7,36.9 454.5,36.9 455.2,36.9 455.2,36.7 455.9,36.7 456.6,36.7 456.6,36.6 457.4,36.6 458.1,36.6 458.1,36.5 458.8,36.5 459.6,36.5 459.6,36.4 460.3,36.4 461.0,36.4 461.0,36.2 461.8,36.2 462.5,36.2 462.5,36.1 463.2,36.1 464.0,36.1 464.0,36.0 464.7,36.0 465.4,36.0 465.4,35.8 466.1,35.8 466.9,35.8 466.9,35.7 467.6,35.7 468.3,35.7 468.3,35.6 469.1,35.6 469.8,35.6 469.8,35.5 470.5,35.5 471.3,35.5 471.3,35.4 472.0,35.4 472.8,35.4 472.8,35.2 473.5,35.2 474.2,35.2 474.2,35.1 475.0,35.1 475.7,35.1 475.7,35.0 476.4,35.0 477.2,35.0 477.2,34.9 477.9,34.9 478.6,34.9 478.6,34.8 479.4,34.8 480.1,34.8 480.1,34.7 480.8,34.7 481.6,34.7 482.3,34.7 483.0,34.7 483.0,34.6 483.8,34.6 484.5,34.6 484.5,34.5 485.2,34.5 485.9,34.5 485.9,34.4 486.7,34.4 487.4,34.4 487.4,34.3 488.1,34.3 488.9,34.3 489.6,34.3 490.3,34.3 490.3,34.1 491.1,34.1 491.8,34.1 491.8,34.0 492.5,34.0 493.2,34.0 493.2,33.9 494.0,33.9 494.7,33.9 494.7,33.8 495.4,33.8 496.2,33.8 496.2,33.7 496.9,33.7 497.6,33.7 497.6,33.5 498.4,33.5 499.1,33.5 499.1,33.4 499.8,33.4 500.5,33.4 500.5,33.3 501.3,33.3 502.0,33.3 502.0,33.2 502.7,33.2 503.5,33.2 503.5,33.0 504.2,33.0 504.9,33.0 505.7,33.0 506.4,33.0 506.4,32.9 507.1,32.9 507.9,32.9 507.9,32.8 508.6,32.8 509.3,32.8 509.3,32.7 510.0,32.7 510.8,32.7 511.5,32.7 512.2,32.7 512.2,32.6 513.0,32.6 513.7,32.6 513.7,32.5 514.4,32.5 515.1,32.5 515.1,32.4 515.9,32.4 516.6,32.4 517.3,32.4 518.1,32.4 518.1,32.3 518.8,32.3 519.5,32.3 519.5,32.2 520.3,32.2 521.0,32.2 521.0,32.1 521.7,32.1 522.4,32.1 523.2,32.1 523.9,32.1 523.9,32.0 524.6,32.0 525.4,32.0 525.4,31.9 526.1,31.9 526.8,31.9 526.8,31.8 527.6,31.8 528.3,31.8 528.3,31.7 529.0,31.7 529.8,31.7 530.5,31.7 531.2,31.7 531.2,31.6 531.9,31.6 532.7,31.6 532.7,31.5 533.4,31.5 534.1,31.5 534.1,31.4 534.9,31.4 535.6,31.4 535.6,31.2 536.3,31.2 537.0,31.2 537.0,31.1 537.8,31.1 538.5,31.1 538.5,31.0 539.2,31.0 540.0,31.0 540.0,30.9 540.7,30.9 541.4,30.9 541.4,30.7 542.2,30.7 542.9,30.7 542.9,30.6 543.6,30.6 544.4,30.6 544.4,30.5 545.1,30.5 545.8,30.5 545.8,30.3 546.5,30.3 547.3,30.3 547.3,30.2 548.0,30.2 548.7,30.2 548.7,30.1 549.5,30.1 550.2,30.1 550.9,30.1 551.6,30.1 551.6,30.0 552.4,30.0 553.1,30.0 553.1,29.9 553.8,29.9 554.6,29.9 554.6,29.8 555.3,29.8 556.0,29.8 556.0,29.7 556.8,29.7 557.5,29.7 558.2,29.7 559.0,29.7 559.0,29.6 559.7,29.6 560.4,29.6 560.4,29.5 561.1,29.5 561.9,29.5 561.9,29.4 562.6,29.4 563.4,29.4 564.1,29.4 564.9,29.4 564.9,29.3 565.7,29.3 566.5,29.3 567.2,29.3 568.0,29.3 568.8,29.3 569.6,29.3 569.6,29.2 570.4,29.2 571.1,29.2 571.9,29.2 572.7,29.2 572.7,29.1 573.5,29.1 574.2,29.1 575.0,29.1 575.8,29.1 576.5,29.1 577.3,29.1 578.0,29.1 578.8,29.1 578.8,29.0 579.6,29.0 580.3,29.0 581.1,29.0 581.8,29.0 582.6,29.0 583.4,29.0 584.1,29.0 584.9,29.0 585.7,29.0 586.4,29.0 587.2,29.0 587.9,29.0 587.9,28.9 588.7,28.9 589.5,28.9 590.2,28.9 591.0,28.9 591.7,28.9 592.5,28.9 593.3,28.9 594.0,28.9 594.8,28.9 595.5,28.9 596.3,28.9 597.1,28.9 597.1,28.8 597.8,28.8 598.6,28.8 599.3,28.8 600.1,28.8 600.9,28.8 601.6,28.8 602.4,28.8 603.2,28.8 603.9,28.8 604.7,28.8 605.4,28.8 606.2,28.8 606.2,28.7 607.0,28.7 607.7,28.7 608.5,28.7 609.2,28.7 610.0,28.7 610.8,28.7 611.5,28.7 612.3,28.7 613.0,28.7 613.8,28.7 614.6,28.7 615.3,28.7 616.1,28.7 616.9,28.7 616.9,28.6 617.6,28.6 618.4,28.6 619.1,28.6 619.9,28.6 620.7,28.6 621.4,28.6 622.2,28.6 623.0,28.6 623.7,28.6 624.5,28.6 625.2,28.6 626.0,28.6 626.8,28.6 627.5,28.6 628.3,28.6 629.0,28.6 629.8,28.6 630.6,28.6 630.6,28.5 631.3,28.5 632.1,28.5 632.9,28.5 633.6,28.5 634.4,28.5 635.1,28.5 635.9,28.5 636.7,28.5 637.4,28.5 638.2,28.5 639.0,28.5 639.7,28.5 640.5,28.5 641.2,28.5 642.0,28.5 642.8,28.5 642.8,28.4 643.5,28.4 644.3,28.4 644.3,28.3 645.0,28.3 645.8,28.3 645.8,28.2 646.5,28.2 647.3,28.2 647.3,28.1 648.0,28.1 648.8,28.1 648.8,28.0 649.5,28.0 650.3,28.0 650.3,27.8 651.1,27.8 651.8,27.8 651.8,27.7 652.6,27.7 653.3,27.7 653.3,27.6 654.1,27.6 654.8,27.6 654.8,27.5 655.6,27.5 656.3,27.5 656.3,27.4 657.1,27.4 657.9,27.4 657.9,27.3 658.6,27.3 659.4,27.3 659.4,27.2 660.1,27.2 660.9,27.2 660.9,27.1 661.6,27.1 662.4,27.1 662.4,27.0 663.1,27.0 663.9,27.0 663.9,26.9 664.7,26.9 665.4,26.9 665.4,26.8 666.2,26.8 666.9,26.8 666.9,26.7 667.7,26.7 668.4,26.7 668.4,26.6 669.2,26.6 669.9,26.6 669.9,26.5 670.7,26.5 671.4,26.5 671.4,26.4 672.2,26.4" stroke="#800080" stroke-dasharray="14.03,3.89" stroke-linejoin="bevel"/>
<polyline id="c-red" points="68.5,476.3 68.5,474.8 68.5,473.3 68.5,471.8 68.5,470.2 68.5,468.7 68.5,467.2 68.5,465.7 68.5,464.2 68.5,462.7 68.5,461.2 68.5,459.7 68.5,458.1 68.5,456.6 68.5,455.1 68.5,453.6 68.5,452.1 68.5,450.6 68.5,449.1 68.5,447.6 68.5,446.1 68.5,444.5 68.5,443.0 68.5,441.5 68.5,440.0 68.5,438.5 68.5,437.0 68.5,435.6 68.5,434.1 68.5,432.6 68.5,431.1 68.5,429.6 68.5,428.1 68.5,426.7 68.5,425.2 68.5,423.7 68.5,422.2 68.5,420.7 68.5,419.3 68.6,419.3 68.6,417.8 68.6,416.3 68.6,414.8 68.6,413.3 68.6,411.9 68.6,410.4 68.6,408.9 68.6,407.4 68.6,405.9 68.6,404.4 68.6,403.0 68.6,401.5 68.6,400.0 68.6,398.5 68.6,397.0 68.6,395.5 68.7,395.5 68.7,394.0 68.7,392.5 68.7,391.0 68.7,389.5 68.7,388.0 68.7,386.5 68.7,385.0 68.7,383.5 68.7,382.0 68.7,380.5 68.7,379.0 68.7,377.5 68.7,376.0 68.7,374.5 68.7,373.0 68.7,371.5 68.7,370.0 68.8,370.0 68.8,368.5 68.8,367.0 68.8,365.5 68.8,364.0 68.8,362.5 68.8,361.0 68.8,359.5 68.8,358.0 68.8,356.5 68.8,355.0 68.8,353.5 68.8,352.0 68.8,350.5 68.8,349.0 68.8,347.5 68.8,346.0 68.8,344.5 68.9,344.5 68.9,343.0 68.9,341.5 68.9,340.0 68.9,338.5 68.9,337.0 68.9,335.5 68.9,334.0 68.9,332.4 68.9,330.9 69.0,330.9 69.0,329.4 69.0,327.9 69.0,326.4 69.0,324.9 69.0,323.4 69.0,321.9 69.0,320.4 69.0,318.9 69.1,318.9 69.1,317.3 69.1,315.8 69.1,314.3 69.1,312.8 69.1,311.3 69.1,309.8 69.1,308.3 69.1,306.8 69.2,306.8 69.2,305.3 69.2,303.7 69.2,302.2 69.2,300.7 69.2,299.2 69.2,297.7 69.2,296.2 69.3,296.2 69.3,294.7 69.3,293.2 69.3,291.8 69.4,291.8 69.4,290.3 69.4,288.8 69.4,287.3 69.5,287.3 69.5,285.8 69.5,284.3 69.5,282.8 69.6,282.8 69.6,281.4 69.6,279.9 69.6,278.4 69.7,278.4 69.7,276.9 69.7,275.4 69.7,273.9 69.8,273.9 69.8,272.4 69.8,270.9 69.8,269.5 69.9,269.5 69.9,268.0 69.9,266.5 69.9,265.0 70.0,265.0 70.0,263.5 70.1,263.5 70.1,262.0 70.1,260.5 70.2,260.5 70.2,259.0 70.3,259.0 70.3,257.5 70.3,256.0 70.4,256.0 70.4,254.4 70.5,254.4 70.5,252.9 70.6,252.9 70.6,251.4 70.6,249.9 70.7,249.9 70.7,248.4 70.8,248.4 70.8,246.9 70.9,246.9 70.9,245.4 70.9,243.9 71.0,243.9 71.0,242.4 71.1,242.4 71.1,240.9 71.2,240.9 71.2,239.4 71.3,239.4 71.3,237.9 71.4,237.9 71.4,236.3 71.5,236.3 71.5,234.8 71.6,234.8 71.6,233.3 71.7,233.3 71.7,231.8 71.8,231.8 71.8,230.3 71.8,228.8 71.9,228.8 71.9,227.3 72.0,227.3 72.0,225.8 72.1,225.8 72.2,225.8 72.2,224.3 72.2,222.8 72.3,222.8 72.3,221.2 72.4,221.2 72.4,219.7 72.5,219.7 72.5,218.2 72.6,218.2 72.7,218.2 72.7,216.7 72.8,216.7 72.8,215.2 72.9,215.2 72.9,213.7 73.0,213.7 73.0,212.2 73.1,212.2 73.1,210.7 73.2,210.7 73.2,209.2 73.3,209.2 73.3,207.6 73.4,207.6 73.4,206.1 73.5,206.1 73.5,204.6 73.6,204.6 73.6,203.1 73.7,203.1 73.7,201.6 73.8,201.6 73.8,200.1 73.9,200.1 74.0,200.1 74.0,198.6 74.1,198.6 74.1,197.1 74.2,197.1 74.2,195.6 74.3,195.6 74.4,195.6 74.4,194.1 74.5,194.1 74.5,192.5 74.6,192.5 74.7,192.5 74.7,191.0 74.8,191.0 74.8,189.5 74.9,189.5 74.9,188.0 75.0,188.0 75.1,188.0 75.1,186.6 75.3,186.6 75.4,186.6 75.4,185.3 75.5,185.3 75.6,185.3 75.6,183.9 75.8,183.9 75.9,183.9 75.9,182.5 76.0,182.5 76.2,182.5 76.2,181.1 76.3,181.1 76.4,181.1 76.4,179.8 76.5,179.8 76.7,179.8 76.7,178.4 76.8,178.4 76.9,178.4 76.9,176.9 77.1,176.9 77.2,176.9 77.2,175.5 77.4,175.5 77.5,175.5 77.5,174.0 77.6,174.0 77.8,174.0 77.8,172.6 77.9,172.6 78.1,172.6 78.1,171.1 78.2,171.1 78.3,171.1 78.3,169.7 78.5,169.7 78.6,169.7 78.6,168.2 78.8,168.2 78.9,168.2 78.9,166.7 79.1,166.7 79.3,166.7 79.3,165.3 79.5,165.3 79.7,165.3 79.7,163.8 79.9,163.8 80.0,163.8 80.0,162.3 80.2,162.3 80.4,162.3 80.4,160.9 80.6,160.9 80.8,160.9 80.8,159.4 80.9,159.4 81.1,159.4 81.1,158.0 81.3,158.0 81.5,158.0 81.5,156.5 81.7,156.5 81.9,156.5 81.9,155.0 82.2,155.0 82.4,155.0 82.4,153.6 82.7,153.6 83.0,153.6 83.0,152.1 83.2,152.1 83.5,152.1 83.5,150.7 83.7,150.7 84.0,150.7 84.0,149.2 84.3,149.2 84.5,149.2 84.5,147.8 84.8,147.8 85.0,147.8 85.0,146.3 85.3,146.3 85.7,146.3 85.7,144.7 86.0,144.7 86.4,144.7 86.4,143.1 86.8,143.1 87.1,143.1 87.1,141.7 87.5,141.7 87.8,141.7 87.8,140.3 88.1,140.3 88.5,140.3 88.5,138.8 88.8,138.8 89.2,138.8 89.2,137.4 89.5,137.4 89.9,137.4 89.9,136.0 90.2,136.0 90.6,136.0 90.6,134.6 90.9,134.6 91.2,134.6 91.2,133.3 91.6,133.3 91.9,133.3 91.9,131.9 92.3,131.9 92.6,131.9 92.6,130.6 93.0,130.6 93.3,130.6 93.3,129.2 93.6,129.2 94.0,129.2 94.0,127.9 94.3,127.9 94.7,127.9 94.7,126.5 95.0,126.5 95.4,126.5 95.4,125.2 95.7,125.2 96.1,125.2 96.1,123.8 96.5,123.8 96.9,123.8 96.9,122.5 97.3,122.5 97.7,122.5 97.7,121.1 98.1,121.1 98.4,121.1 98.4,119.8 98.8,119.8 99.2,119.8 99.2,118.4 99.6,118.4 100.0,118.4 100.0,117.1 100.4,117.1 100.9,117.1 100.9,115.8 101.3,115.8 101.8,115.8 101.8,114.6 102.2,114.6 102.7,114.6 102.7,113.3 103.2,113.3 103.6,113.3 103.6,112.1 104.1,112.1 104.6,112.1 104.6,110.9 105.1,110.9 105.5,110.9 105.5,109.6 106.0,109.6 106.5,109.6 106.5,108.4 107.0,108.4 107.7,108.4 107.7,107.4 108.4,107.4 109.1,107.4 109.1,106.5 109.8,106.5 110.5,106.5 110.5,105.6 111.2,105.6 111.9,105.6 111.9,104.6 112.6,104.6 113.2,104.6 113.2,103.6 113.8,103.6 114.4,103.6 114.4,102.7 114.9,102.7 115.5,102.7 115.5,101.7 116.1,101.7 116.7,101.7 116.7,100.7 117.3,100.7 117.9,100.7 117.9,99.9 118.6,99.9 119.2,99.9 119.2,99.1 119.9,99.1 120.5,99.1 120.5,98.2 121.2,98.2 121.8,98.2 121.8,97.4 122.5,97.4 122.9,97.4 122.9,96.4 123.4,96.4 123.9,96.4 123.9,95.4 124.4,95.4 124.9,95.4 124.9,94.4 125.4,94.4 126.0,94.4 126.0,93.7 126.7,93.7 127.3,93.7 127.3,92.9 127.9,92.9 128.6,92.9 128.6,92.1 129.2,92.1 129.9,92.1 129.9,91.5 130.5,91.5 131.2,91.5 131.2,90.8 131.9,90.8 132.5,90.8 132.5,90.2 133.2,90.2 133.8,90.2 133.8,89.5 134.5,89.5 135.2,89.5 135.2,88.9 135.8,88.9 136.5,88.9 136.5,88.2 137.2,88.2 137.8,88.2 137.8,87.6 138.5,87.6 139.2,87.6 139.2,86.9 139.8,86.9 140.5,86.9 140.5,86.3 141.1,86.3 141.8,86.3 141.8,85.6 142.5,85.6 143.1,85.6 143.1,85.0 143.8,85.0 144.5,85.0 144.5,84.4 145.1,84.4 145.8,84.4 145.8,83.8 146.4,83.8 147.1,83.8 147.1,83.2 147.7,83.2 148.4,83.2 148.4,82.6 149.0,82.6 149.7,82.6 149.7,82.0 150.3,82.0 150.9,82.0 150.9,81.4 151.6,81.4 152.2,81.4 152.2,80.9 152.9,80.9 153.6,80.9 153.6,80.3 154.2,80.3 154.8,80.3 154.8,79.7 155.5,79.7 156.2,79.7 156.2,79.0 156.9,79.0 157.5,79.0 157.5,78.4 158.2,78.4 158.9,78.4 158.9,77.7 159.6,77.7 160.2,77.7 160.2,77.1 160.9,77.1 161.6,77.1 161.6,76.4 162.3,76.4 163.0,76.4 163.0,75.8 163.6,75.8 164.3,75.8 164.3,75.1 165.0,75.1 165.7,75.1 165.7,74.4 166.4,74.4 167.1,74.4 167.1,73.7 167.8,73.7 168.5,73.7 168.5,73.0 169.2,73.0 169.9,73.0 169.9,72.3 170.6,72.3 171.3,72.3 171.3,71.6 172.0,71.6 172.7,71.6 172.7,71.2 173.4,71.2 174.1,71.2 174.1,70.8 174.8,70.8 175.5,70.8 175.5,70.4 176.2,70.4 176.8,70.4 176.8,70.0 177.5,70.0 178.2,70.0 178.2,69.6 178.9,69.6 179.6,69.6 179.6,69.2 180.3,69.2 181.0,69.2 181.0,68.8 181.8,68.8 182.5,68.8 182.5,68.5 183.2,68.5 183.9,68.5 183.9,68.1 184.7,68.1 185.4,68.1 185.4,67.8 186.1,67.8 186.9,67.8 186.9,67.4 187.6,67.4 188.3,67.4 188.3,67.1 189.0,67.1 189.8,67.1 189.8,66.7 190.5,66.7 191.2,66.7 191.2,66.3 191.9,66.3 192.6,66.3 192.6,65.9 193.3,65.9 194.0,65.9 194.0,65.5 194.7,65.5 195.4,65.5 195.4,65.1 196.1,65.1 196.8,65.1 196.8,64.7 197.6,64.7 198.3,64.7 198.3,64.2 199.0,64.2 199.7,64.2 199.7,63.8 200.4,63.8 201.1,63.8 201.1,63.4 201.8,63.4 202.5,63.4 202.5,63.0 203.2,63.0 203.9,63.0 203.9,62.6 204.6,62.6 205.3,62.6 205.3,62.3 206.1,62.3 206.8,62.3 206.8,62.0 207.5,62.0 208.2,62.0 208.2,61.7 209.0,61.7 209.7,61.7 209.7,61.4 210.4,61.4 211.2,61.4 211.2,61.1 211.9,61.1 212.6,61.1 212.6,60.8 213.4,60.8 214.1,60.8 214.1,60.5 214.8,60.5 215.6,60.5 215.6,60.2 216.3,60.2 217.0,60.2 217.0,59.9 217.7,59.9 218.5,59.9 218.5,59.6 219.2,59.6 219.9,59.6 219.9,59.4 220.7,59.4 221.4,59.4 221.4,59.1 222.1,59.1 222.8,59.1 222.8,58.9 223.6,58.9 224.3,58.9 224.3,58.7 225.0,58.7 225.8,58.7 225.8,58.5 226.5,58.5 227.2,58.5 227.2,58.2 228.0,58.2 228.7,58.2 228.7,58.0 229.4,58.0 230.2,58.0 230.2,57.8 230.9,57.8 231.6,57.8 231.6,57.6 232.3,57.6 233.1,57.6 233.1,57.4 233.8,57.4 234.5,57.4 234.5,57.2 235.3,57.2 236.0,57.2 236.0,57.0 236.7,57.0 237.4,57.0 237.4,56.9 238.2,56.9 238.9,56.9 238.9,56.7 239.6,56.7 240.4,56.7 240.4,56.6 241.1,56.6 241.8,56.6 241.8,56.4 242.6,56.4 243.3,56.4 243.3,56.3 244.0,56.3 244.8,56.3 244.8,56.1 245.5,56.1 246.2,56.1 246.2,56.0 246.9,56.0 247.7,56.0 247.7,55.8 248.4,55.8 249.1,55.8 249.1,55.7 249.9,55.7 250.6,55.7 250.6,55.5 251.3,55.5 252.1,55.5 252.1,55.4 252.8,55.4 253.5,55.4 253.5,55.3 254.2,55.3 255.0,55.3 255.0,55.2 255.7,55.2 256.4,55.2 256.4,55.0 257.2,55.0 257.9,55.0 257.9,54.9 258.6,54.9 259.4,54.9 259.4,54.8 260.1,54.8 260.8,54.8 260.8,54.7 261.5,54.7 262.3,54.7 262.3,54.5 263.0,54.5 263.7,54.5 263.7,54.4 264.5,54.4 265.2,54.4 265.2,54.2 265.9,54.2 266.6,54.2 266.6,54.0 267.4,54.0 268.1,54.0 268.1,53.8 268.8,53.8 269.6,53.8 269.6,53.7 270.3,53.7 271.0,53.7 271.0,53.5 271.8,53.5 272.5,53.5 272.5,53.3 273.2,53.3 274.0,53.3 274.0,53.2 274.7,53.2 275.4,53.2 275.4,53.0 276.1,53.0 276.9,53.0 276.9,52.8 277.6,52.8 278.4,52.8 278.4,52.7 279.2,52.7 279.9,52.7 279.9,52.5 280.7,52.5 281.5,52.5 281.5,52.4 282.2,52.4 283.0,52.4 283.0,52.3 283.8,52.3 284.6,52.3 284.6,52.1 285.4,52.1 286.1,52.1 286.1,52.0 286.9,52.0 287.7,52.0 287.7,51.8 288.4,51.8 289.2,51.8 289.2,51.7 290.0,51.7 290.8,51.7 290.8,51.6 291.6,51.6 292.4,51.6 292.4,51.5 293.2,51.5 294.0,51.5 294.0,51.4 294.8,51.4 295.6,51.4 295.6,51.3 296.4,51.3 297.2,51.3 297.2,51.2 298.0,51.2 298.8,51.2 298.8,51.1 299.6,51.1 300.3,51.1 300.3,51.0 301.1,51.0 301.8,51.0 302.5,51.0 303.2,51.0 303.2,50.9 304.0,50.9 304.7,50.9 304.7,50.8 305.4,50.8 306.2,50.8 306.2,50.7 306.9,50.7 307.6,50.7 307.6,50.6 308.4,50.6 309.1,50.6 309.1,50.5 309.8,50.5 310.5,50.5 310.5,50.4 311.3,50.4 312.0,50.4 312.0,50.3 312.7,50.3 313.5,50.3 313.5,50.2 314.2,50.2 314.9,50.2 314.9,49.9 315.7,49.9 316.4,49.9 316.4,49.7 317.1,49.7 317.9,49.7 317.9,49.4 318.6,49.4 319.3,49.4 319.3,49.2 320.0,49.2 320.8,49.2 320.8,48.9 321.5,48.9 322.2,48.9 322.2,48.6 323.0,48.6 323.7,48.6 323.7,48.4 324.4,48.4 325.1,48.4 325.1,48.1 325.9,48.1 326.6,48.1 326.6,47.9 327.3,47.9 328.1,47.9 328.1,47.6 328.8,47.6 329.5,47.6 330.3,47.6 331.0,47.6 331.7,47.6 332.5,47.6 333.2,47.6 333.9,47.6 334.6,47.6 335.4,47.6 336.1,47.6 336.8,47.6 337.6,47.6 338.3,47.6 339.0,47.6 339.8,47.6 340.5,47.6 341.2,47.6 341.9,47.6 342.7,47.6 343.4,47.6 344.1,47.6 344.9,47.6 345.6,47.6 345.6,47.5 346.3,47.5 347.0,47.5 347.8,47.5 348.5,47.5 349.2,47.5 350.0,47.5 350.7,47.5 351.4,47.5 351.4,47.4 352.2,47.4 352.9,47.4 353.6,47.4 354.4,47.4 355.1,47.4 355.8,47.4 355.8,47.3 356.5,47.3 357.3,47.3 358.0,47.3 358.7,47.3 358.7,47.0 359.5,47.0 360.2,47.0 360.2,46.8 360.9,46.8 361.6,46.8 361.6,46.5 362.4,46.5 363.1,46.5 363.1,46.3 363.8,46.3 364.6,46.3 364.6,46.0 365.3,46.0 366.0,46.0 366.0,45.7 366.8,45.7 367.5,45.7 367.5,45.5 368.2,45.5 369.0,45.5 369.0,45.2 369.7,45.2 370.4,45.2 370.4,45.0 371.1,45.0 371.9,45.0 371.9,44.7 372.6,44.7 373.4,44.7 373.4,44.6 374.2,44.6 374.9,44.6 374.9,44.5 375.7,44.5 376.5,44.5 376.5,44.3 377.2,44.3 378.0,44.3 378.0,44.2 378.8,44.2 379.6,44.2 379.6,44.1 380.4,44.1 381.1,44.1 381.1,44.0 381.9,44.0 382.7,44.0 382.7,43.8 383.4,43.8 384.2,43.8 384.2,43.7 385.0,43.7 385.8,43.7 385.8,43.6 386.6,43.6 387.4,43.6 387.4,43.5 388.2,43.5 389.0,43.5 389.8,43.5 390.6,43.5 390.6,43.4 391.4,43.4 392.2,43.4 392.2,43.3 393.0,43.3 393.8,43.3 393.8,43.2 394.6,43.2 395.3,43.2 395.3,43.1 396.1,43.1 396.8,43.1 396.8,42.9 397.5,42.9 398.2,42.9 398.2,42.8 399.0,42.8 399.7,42.8 399.7,42.6 400.4,42.6 401.2,42.6 401.2,42.5 401.9,42.5 402.6,42.5 402.6,42.4 403.4,42.4 404.1,42.4 404.1,42.2 404.8,42.2 405.5,42.2 405.5,42.1 406.3,42.1 407.0,42.1 407.0,41.9 407.7,41.9 408.5,41.9 408.5,41.8 409.2,41.8 409.9,41.8 409.9,41.7 410.7,41.7 411.4,41.7 411.4,41.6 412.1,41.6 412.9,41.6 413.6,41.6 414.3,41.6 414.3,41.5 415.0,41.5 415.8,41.5 415.8,41.4 416.5,41.4 417.2,41.4 417.2,41.3 418.0,41.3 418.7,41.3 418.7,41.2 419.4,41.2 420.1,41.2 420.9,41.2 421.6,41.2 421.6,41.1 422.3,41.1 423.1,41.1 423.1,41.0 423.8,41.0 424.5,41.0 424.5,40.9 425.3,40.9 426.0,40.9 426.0,40.7 426.7,40.7 427.5,40.7 427.5,40.6 428.2,40.6 428.9,40.6 428.9,40.4 429.6,40.4 430.4,40.4 430.4,40.3 431.1,40.3 431.8,40.3 431.8,40.2 432.6,40.2 433.3,40.2 433.3,40.0 434.0,40.0 434.8,40.0 434.8,39.9 435.5,39.9 436.2,39.9 436.2,39.7 436.9,39.7 437.7,39.7 437.7,39.6 438.4,39.6 439.1,39.6 439.1,39.5 439.9,39.5 440.6,39.5 440.6,39.3 441.3,39.3 442.0,39.3 442.0,39.1 442.8,39.1 443.5,39.1 443.5,39.0 444.2,39.0 445.0,39.0 445.0,38.9 445.7,38.9 446.4,38.9 446.4,38.7 447.2,38.7 447.9,38.7 447.9,38.6 448.6,38.6 449.4,38.6 449.4,38.4 450.1,38.4 450.8,38.4 450.8,38.2 451.5,38.2 452.3,38.2 452.3,38.1 453.0,38.1 453.7,38.1 453.7,38.0 454.5,38.0 455.2,38.0 455.2,37.9 455.9,37.9 456.6,37.9 457.4,37.9 458.1,37.9 458.1,37.8 458.8,37.8 459.6,37.8 459.6,37.7 460.3,37.7 461.0,37.7 461.0,37.6 461.8,37.6 462.5,37.6 462.5,37.5 463.2,37.5 464.0,37.5 464.7,37.5 465.4,37.5 465.4,37.4 466.1,37.4 466.9,37.4 466.9,37.3 467.6,37.3 468.3,37.3 468.3,37.2 469.1,37.2 469.8,37.2 470.6,37.2 471.3,37.2 471.3,37.1 472.0,37.1 472.8,37.1 473.5,37.1 474.3,37.1 474.3,37.0 475.0,37.0 475.7,37.0 475.7,36.9 476.5,36.9 477.2,36.9 477.2,36.8 477.9,36.8 478.6,36.8 479.4,36.8 480.1,36.8 480.1,36.7 480.8,36.7 481.6,36.7 481.6,36.6 482.3,36.6 483.0,36.6 483.0,36.5 483.8,36.5 484.5,36.5 484.5,36.4 485.2,36.4 486.0,36.4 486.7,36.4 487.4,36.4 487.4,36.3 488.1,36.3 488.9,36.3 488.9,36.2 489.6,36.2 490.3,36.2 490.3,36.1 491.1,36.1 491.8,36.1 491.8,36.0 492.5,36.0 493.2,36.0 493.2,35.9 494.0,35.9 494.7,35.9 494.7,35.8 495.4,35.8 496.2,35.8 496.2,35.7 496.9,35.7 497.6,35.7 497.6,35.6 498.4,35.6 499.1,35.6 499.1,35.5 499.8,35.5 500.5,35.5 500.5,35.4 501.3,35.4 502.0,35.4 502.0,35.3 502.7,35.3 503.5,35.3 503.5,35.2 504.2,35.2 504.9,35.2 504.9,35.1 505.7,35.1 506.4,35.1 507.1,35.1 507.9,35.1 507.9,35.0 508.6,35.0 509.3,35.0 509.3,34.9 510.0,34.9 510.8,34.9 511.5,34.9 512.2,34.9 512.2,34.8 513.0,34.8 513.7,34.8 513.7,34.7 514.4,34.7 515.1,34.7 515.1,34.6 515.9,34.6 516.6,34.6 517.3,34.6 518.1,34.6 518.1,34.5 518.8,34.5 519.5,34.5 519.5,34.4 520.3,34.4 521.0,34.4 521.0,34.3 521.7,34.3 522.4,34.3 522.4,34.2 523.2,34.2 523.9,34.2 523.9,34.1 524.6,34.1 525.4,34.1 526.1,34.1 526.8,34.1 526.8,34.0 527.6,34.0 528.3,34.0 528.3,33.9 529.0,33.9 529.8,33.9 529.8,33.8 530.5,33.8 531.2,33.8 531.2,33.7 531.9,33.7 532.7,33.7 532.7,33.6 533.4,33.6 534.1,33.6 534.9,33.6 535.6,33.6 535.6,33.5 536.3,33.5 537.0,33.5 537.8,33.5 538.5,33.5 538.5,33.4 539.2,33.4 540.0,33.4 540.7,33.4 541.4,33.4 541.4,33.3 542.2,33.3 542.9,33.3 543.6,33.3 544.4,33.3 544.4,33.2 545.1,33.2 545.8,33.2 546.5,33.2 547.3,33.2 547.3,33.1 548.0,33.1 548.7,33.1 549.5,33.1 550.2,33.1 550.2,33.0 550.9,33.0 551.6,33.0 552.4,33.0 553.1,33.0 553.8,33.0 554.6,33.0 554.6,32.9 555.3,32.9 556.0,32.9 556.8,32.9 557.5,32.9 557.5,32.8 558.2,32.8 559.0,32.8 559.7,32.8 560.4,32.8 561.1,32.8 561.9,32.8 561.9,32.7 562.6,32.7 563.4,32.7 564.1,32.7 564.9,32.7 564.9,32.6 565.7,32.6 566.5,32.6 567.2,32.6 568.0,32.6 568.8,32.6 569.6,32.6 569.6,32.5 570.4,32.5 571.1,32.5 571.9,32.5 572.7,32.5 573.5,32.5 574.2,32.5 574.2,32.4 575.0,32.4 575.8,32.4 576.6,32.4 577.4,32.4 578.2,32.4 579.0,32.4 579.0,32.3 579.8,32.3 580.5,32.3 581.3,32.3 582.1,32.3 582.9,32.3 583.7,32.3 583.7,32.2 584.5,32.2 585.3,32.2 586.1,32.2 586.8,32.2 586.8,32.1 587.6,32.1 588.3,32.1 589.0,32.1 589.7,32.1 589.7,32.0 590.5,32.0 591.2,32.0 591.9,32.0 592.6,32.0 592.6,31.9 593.4,31.9 594.1,31.9 594.1,31.8 594.8,31.8 595.6,31.8 596.3,31.8 597.0,31.8 597.0,31.7 597.7,31.7 598.5,31.7 599.2,31.7 599.9,31.7 599.9,31.6 600.6,31.6 601.4,31.6 602.1,31.6 602.8,31.6 602.8,31.5 603.6,31.5 604.3,31.5 605.0,31.5 605.8,31.5 605.8,31.4 606.5,31.4 607.2,31.4 607.2,31.3 608.0,31.3 608.7,31.3 609.4,31.3 610.2,31.3 610.2,31.2 610.9,31.2 611.6,31.2 612.3,31.2 613.1,31.2 613.1,31.1 613.8,31.1 614.5,31.1 615.3,31.1 616.0,31.1 616.0,31.0 616.7,31.0 617.5,31.0 618.2,31.0 618.9,31.0 618.9,30.9 619.7,30.9 620.4,30.9 620.4,30.8 621.1,30.8 621.8,30.8 622.6,30.8 623.3,30.8 623.3,30.7 624.0,30.7 624.7,30.7 624.7,30.6 625.5,30.6 626.2,30.6 626.9,30.6 627.7,30.6 627.7,30.5 628.4,30.5 629.1,30.5 629.1,30.4 629.8,30.4 630.6,30.4 631.3,30.4 632.0,30.4 632.0,30.3 632.7,30.3 633.5,30.3 633.5,30.2 634.2,30.2 634.9,30.2 635.7,30.2 636.4,30.2 636.4,30.1 637.1,30.1 637.9,30.1 637.9,30.0 638.6,30.0 639.3,30.0 639.3,29.9 640.1,29.9 640.8,29.9 641.5,29.9 642.2,29.9 642.2,29.8 643.0,29.8 643.7,29.8 643.7,29.7 644.4,29.7 645.2,29.7 645.2,29.6 645.9,29.6 646.6,29.6 647.4,29.6 648.1,29.6 648.1,29.5 648.8,29.5 649.6,29.5 649.6,29.4 650.3,29.4 651.0,29.4 651.0,29.3 651.8,29.3 652.5,29.3 652.5,29.2 653.2,29.2 654.0,29.2 654.0,29.0 654.7,29.0 655.4,29.0 655.4,28.9 656.2,28.9 656.9,28.9 656.9,28.8 657.6,28.8 658.3,28.8 658.3,28.6 659.1,28.6 659.8,28.6 659.8,28.5 660.5,28.5 661.3,28.5 661.3,28.4 662.0,28.4 662.7,28.4 662.7,28.2 663.5,28.2 664.2,28.2 664.2,28.1 664.9,28.1 665.7,28.1 665.7,28.0 666.4,28.0 667.1,28.0 667.1,27.6 667.9,27.6 668.6,27.6 668.6,27.2 669.3,27.2 670.0,27.2 670.0,26.8 670.8,26.8 671.5,26.8 671.5,26.4 672.2,26.4" stroke="#DC143C" stroke-linejoin="bevel"/>
<line x1="68.3" y1="476.4" x2="672.4" y2="26.5" stroke="#000" stroke-dasharray="12.51,5.41"/>
</g>
<g stroke="#000" stroke-width="1.15">
<line x1="68.30" y1="476.4" x2="68.30" y2="482.8"/>
<line x1="62.0" y1="476.45" x2="68.3" y2="476.45"/>
<line x1="189.12" y1="476.4" x2="189.12" y2="482.8"/>
<line x1="62.0" y1="386.46" x2="68.3" y2="386.46"/>
<line x1="309.94" y1="476.4" x2="309.94" y2="482.8"/>
<line x1="62.0" y1="296.47" x2="68.3" y2="296.47"/>
<line x1="430.76" y1="476.4" x2="430.76" y2="482.8"/>
<line x1="62.0" y1="206.48" x2="68.3" y2="206.48"/>
<line x1="551.58" y1="476.4" x2="551.58" y2="482.8"/>
<line x1="62.0" y1="116.49" x2="68.3" y2="116.49"/>
<line x1="672.40" y1="476.4" x2="672.40" y2="482.8"/>
<line x1="62.0" y1="26.50" x2="68.3" y2="26.50"/>
</g>
<rect x="68.3" y="26.5" width="604.1" height="449.9" fill="none" stroke="#000" stroke-width="1.3"/>
<g font-size="16.6">
<text transform="translate(68.1,501.45) scale(1,1.09)" text-anchor="middle">0.0</text>
<text transform="translate(55.8,483.35) scale(1,1.09)" text-anchor="end">0.0</text>
<text transform="translate(189.0,501.45) scale(1,1.09)" text-anchor="middle">0.2</text>
<text transform="translate(55.8,393.36) scale(1,1.09)" text-anchor="end">0.2</text>
<text transform="translate(309.8,501.45) scale(1,1.09)" text-anchor="middle">0.4</text>
<text transform="translate(55.8,303.37) scale(1,1.09)" text-anchor="end">0.4</text>
<text transform="translate(430.6,501.45) scale(1,1.09)" text-anchor="middle">0.6</text>
<text transform="translate(55.8,213.38) scale(1,1.09)" text-anchor="end">0.6</text>
<text transform="translate(551.4,501.45) scale(1,1.09)" text-anchor="middle">0.8</text>
<text transform="translate(55.8,123.39) scale(1,1.09)" text-anchor="end">0.8</text>
<text transform="translate(672.2,501.45) scale(1,1.09)" text-anchor="middle">1.0</text>
<text transform="translate(55.8,33.40) scale(1,1.09)" text-anchor="end">1.0</text>
</g>
<text x="372.1" y="527.3" font-size="19.8" text-anchor="middle">False Positive Rate</text>
<text transform="translate(16.2,251.5) rotate(-90)" font-size="19.8" text-anchor="middle">True Positive Rate</text>
<text transform="translate(370.0,15.9) scale(1,1.05)" font-size="20.4" text-anchor="middle">Comparison of Receiver Operating Characteristic</text>
<rect x="221.7" y="282.4" width="440.2" height="184.2" rx="3" ry="3" fill="#fff" fill-opacity="0.8" stroke="#ccc" stroke-opacity="0.8" stroke-width="1.3"/>
<line x1="229.3" y1="298.4" x2="270.1" y2="298.4" stroke="#FFA500" stroke-width="3.38" stroke-dasharray="12.51,5.41"/>
<text x="287.1" y="306.4" font-size="20.2">NIMCGCN (AUC = 0.7428)</text>
<line x1="229.3" y1="328.0" x2="270.1" y2="328.0" stroke="#008000" stroke-width="3.38" stroke-dasharray="12.51,5.41"/>
<text x="287.1" y="336.0" font-size="20.2">DRWBNCF (AUC = 0.8781)</text>
<line x1="229.3" y1="357.7" x2="270.1" y2="357.7" stroke="#FFC0CB" stroke-width="3.38" stroke-dasharray="21.63,5.41,3.38,5.41"/>
<text x="287.1" y="365.5" font-size="20.2">Ghasemian‘s model (AUC = 0.8902)</text>
<line x1="229.3" y1="387.3" x2="270.1" y2="387.3" stroke="#00BFFF" stroke-width="3.38" stroke-dasharray="3.38,5.58"/>
<text x="287.1" y="395.1" font-size="20.2">VAGE (AUC = 0.9163)</text>
<line x1="229.3" y1="417.0" x2="270.1" y2="417.0" stroke="#800080" stroke-width="3.38" stroke-dasharray="12.51,5.41"/>
<text x="287.1" y="424.7" font-size="20.2">DRGBCN(AUC = 0.9326)</text>
<line x1="229.3" y1="446.6" x2="270.1" y2="446.6" stroke="#DC143C" stroke-width="3.38" stroke-linecap="square"/>
<text x="287.1" y="454.2" font-size="20.2">WMAGT (AUC = 0.9353)</text>
</svg></body></html>
